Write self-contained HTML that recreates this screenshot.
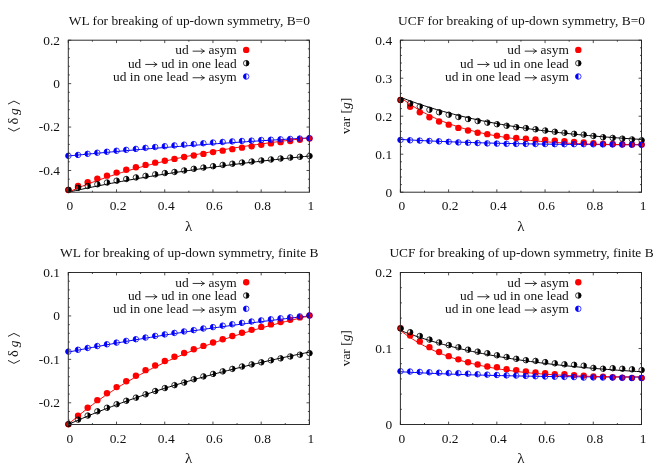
<!DOCTYPE html>
<html><head><meta charset="utf-8"><title>chart</title>
<style>
html,body{margin:0;padding:0;background:#fff}
svg{display:block;will-change:transform}
.t{font-family:"Liberation Serif",serif;font-size:13.42px;fill:#111}
</style></head><body>
<svg width="664" height="465" viewBox="0 0 664 465">
<rect width="664" height="465" fill="#fff"/>
<text x="189.3" y="24.6" text-anchor="middle" class="t">WL for breaking of up-down symmetry, B=0</text>
<polyline points="68.30,156.01 70.71,155.77 73.12,155.53 75.53,155.29 77.94,155.06 80.35,154.82 82.77,154.59 85.18,154.36 87.59,154.13 90.00,153.90 92.41,153.67 94.82,153.45 97.23,153.23 99.64,153.00 102.05,152.78 104.46,152.56 106.88,152.34 109.29,152.13 111.70,151.91 114.11,151.70 116.52,151.49 118.93,151.27 121.34,151.06 123.75,150.86 126.16,150.65 128.57,150.44 130.99,150.24 133.40,150.03 135.81,149.83 138.22,149.63 140.63,149.43 143.04,149.23 145.45,149.03 147.86,148.84 150.27,148.64 152.69,148.45 155.10,148.25 157.51,148.06 159.92,147.87 162.33,147.68 164.74,147.49 167.15,147.31 169.56,147.12 171.97,146.94 174.38,146.75 176.79,146.57 179.21,146.39 181.62,146.21 184.03,146.03 186.44,145.85 188.85,145.67 191.26,145.49 193.67,145.32 196.08,145.14 198.49,144.97 200.90,144.80 203.32,144.62 205.73,144.45 208.14,144.28 210.55,144.11 212.96,143.95 215.37,143.78 217.78,143.61 220.19,143.45 222.60,143.28 225.01,143.12 227.43,142.96 229.84,142.80 232.25,142.63 234.66,142.47 237.07,142.32 239.48,142.16 241.89,142.00 244.30,141.84 246.71,141.69 249.12,141.53 251.54,141.38 253.95,141.23 256.36,141.07 258.77,140.92 261.18,140.77 263.59,140.62 266.00,140.47 268.41,140.32 270.82,140.18 273.23,140.03 275.65,139.88 278.06,139.74 280.47,139.59 282.88,139.45 285.29,139.31 287.70,139.16 290.11,139.02 292.52,138.88 294.93,138.74 297.34,138.60 299.76,138.46 302.17,138.32 304.58,138.19 306.99,138.05 309.40,137.91" fill="none" stroke="#0000ff" stroke-width="1"/>
<polyline points="68.30,192.20 70.71,191.66 73.12,191.13 75.53,190.60 77.94,190.07 80.35,189.55 82.77,189.04 85.18,188.53 87.59,188.02 90.00,187.52 92.41,187.03 94.82,186.54 97.23,186.05 99.64,185.57 102.05,185.10 104.46,184.63 106.88,184.16 109.29,183.69 111.70,183.24 114.11,182.78 116.52,182.33 118.93,181.88 121.34,181.44 123.75,181.00 126.16,180.57 128.57,180.14 130.99,179.71 133.40,179.29 135.81,178.87 138.22,178.45 140.63,178.04 143.04,177.63 145.45,177.22 147.86,176.82 150.27,176.42 152.69,176.03 155.10,175.64 157.51,175.25 159.92,174.87 162.33,174.48 164.74,174.10 167.15,173.73 169.56,173.36 171.97,172.99 174.38,172.62 176.79,172.26 179.21,171.90 181.62,171.54 184.03,171.19 186.44,170.83 188.85,170.49 191.26,170.14 193.67,169.80 196.08,169.46 198.49,169.12 200.90,168.78 203.32,168.45 205.73,168.12 208.14,167.79 210.55,167.47 212.96,167.15 215.37,166.83 217.78,166.51 220.19,166.19 222.60,165.88 225.01,165.57 227.43,165.26 229.84,164.96 232.25,164.65 234.66,164.35 237.07,164.05 239.48,163.76 241.89,163.46 244.30,163.17 246.71,162.88 249.12,162.59 251.54,162.30 253.95,162.02 256.36,161.74 258.77,161.46 261.18,161.18 263.59,160.90 266.00,160.63 268.41,160.36 270.82,160.09 273.23,159.82 275.65,159.55 278.06,159.29 280.47,159.03 282.88,158.76 285.29,158.51 287.70,158.25 290.11,157.99 292.52,157.74 294.93,157.49 297.34,157.24 299.76,156.99 302.17,156.74 304.58,156.50 306.99,156.25 309.40,156.01" fill="none" stroke="#000000" stroke-width="1"/>
<polyline points="68.30,192.20 70.71,191.13 73.12,190.07 75.53,189.04 77.94,188.02 80.35,187.03 82.77,186.05 85.18,185.10 87.59,184.16 90.00,183.24 92.41,182.33 94.82,181.44 97.23,180.57 99.64,179.71 102.05,178.87 104.46,178.04 106.88,177.22 109.29,176.42 111.70,175.64 114.11,174.87 116.52,174.10 118.93,173.36 121.34,172.62 123.75,171.90 126.16,171.19 128.57,170.49 130.99,169.80 133.40,169.12 135.81,168.45 138.22,167.79 140.63,167.15 143.04,166.51 145.45,165.88 147.86,165.26 150.27,164.65 152.69,164.05 155.10,163.46 157.51,162.88 159.92,162.30 162.33,161.74 164.74,161.18 167.15,160.63 169.56,160.09 171.97,159.55 174.38,159.03 176.79,158.51 179.21,157.99 181.62,157.49 184.03,156.99 186.44,156.50 188.85,156.01 191.26,155.53 193.67,155.06 196.08,154.59 198.49,154.13 200.90,153.67 203.32,153.23 205.73,152.78 208.14,152.34 210.55,151.91 212.96,151.49 215.37,151.06 217.78,150.65 220.19,150.24 222.60,149.83 225.01,149.43 227.43,149.03 229.84,148.64 232.25,148.25 234.66,147.87 237.07,147.49 239.48,147.12 241.89,146.75 244.30,146.39 246.71,146.03 249.12,145.67 251.54,145.32 253.95,144.97 256.36,144.62 258.77,144.28 261.18,143.95 263.59,143.61 266.00,143.28 268.41,142.96 270.82,142.63 273.23,142.32 275.65,142.00 278.06,141.69 280.47,141.38 282.88,141.07 285.29,140.77 287.70,140.47 290.11,140.18 292.52,139.88 294.93,139.59 297.34,139.31 299.76,139.02 302.17,138.74 304.58,138.46 306.99,138.19 309.40,137.91" fill="none" stroke="#ff0000" stroke-width="1"/>
<circle cx="68.40" cy="190.00" r="3.20" fill="#ff0000"/>
<circle cx="78.04" cy="185.97" r="3.20" fill="#ff0000"/>
<circle cx="87.69" cy="182.31" r="3.20" fill="#ff0000"/>
<circle cx="97.33" cy="178.81" r="3.20" fill="#ff0000"/>
<circle cx="106.98" cy="175.65" r="3.20" fill="#ff0000"/>
<circle cx="116.62" cy="172.61" r="3.20" fill="#ff0000"/>
<circle cx="126.26" cy="169.78" r="3.20" fill="#ff0000"/>
<circle cx="135.91" cy="167.25" r="3.20" fill="#ff0000"/>
<circle cx="145.55" cy="164.91" r="3.20" fill="#ff0000"/>
<circle cx="155.20" cy="162.65" r="3.20" fill="#ff0000"/>
<circle cx="164.84" cy="160.75" r="3.20" fill="#ff0000"/>
<circle cx="174.48" cy="158.91" r="3.20" fill="#ff0000"/>
<circle cx="184.13" cy="157.03" r="3.20" fill="#ff0000"/>
<circle cx="193.77" cy="155.48" r="3.20" fill="#ff0000"/>
<circle cx="203.42" cy="153.88" r="3.20" fill="#ff0000"/>
<circle cx="213.06" cy="152.11" r="3.20" fill="#ff0000"/>
<circle cx="222.70" cy="150.66" r="3.20" fill="#ff0000"/>
<circle cx="232.35" cy="149.14" r="3.20" fill="#ff0000"/>
<circle cx="241.99" cy="147.63" r="3.20" fill="#ff0000"/>
<circle cx="251.64" cy="146.34" r="3.20" fill="#ff0000"/>
<circle cx="261.28" cy="144.87" r="3.20" fill="#ff0000"/>
<circle cx="270.92" cy="143.41" r="3.20" fill="#ff0000"/>
<circle cx="280.57" cy="142.17" r="3.20" fill="#ff0000"/>
<circle cx="290.21" cy="140.94" r="3.20" fill="#ff0000"/>
<circle cx="299.86" cy="139.73" r="3.20" fill="#ff0000"/>
<circle cx="309.50" cy="138.53" r="3.20" fill="#ff0000"/>
<circle cx="68.40" cy="189.86" r="2.75" fill="none" stroke="#000000" stroke-width="0.75"/><path d="M68.40 187.11A2.75 2.75 0 0 1 68.40 192.61Z" fill="#000000" stroke="#000000" stroke-width="0.3"/>
<circle cx="78.04" cy="187.79" r="2.75" fill="none" stroke="#000000" stroke-width="0.75"/><path d="M78.04 185.04A2.75 2.75 0 0 1 78.04 190.54Z" fill="#000000" stroke="#000000" stroke-width="0.3"/>
<circle cx="87.69" cy="185.96" r="2.75" fill="none" stroke="#000000" stroke-width="0.75"/><path d="M87.69 183.21A2.75 2.75 0 0 1 87.69 188.71Z" fill="#000000" stroke="#000000" stroke-width="0.3"/>
<circle cx="97.33" cy="184.27" r="2.75" fill="none" stroke="#000000" stroke-width="0.75"/><path d="M97.33 181.52A2.75 2.75 0 0 1 97.33 187.02Z" fill="#000000" stroke="#000000" stroke-width="0.3"/>
<circle cx="106.98" cy="182.52" r="2.75" fill="none" stroke="#000000" stroke-width="0.75"/><path d="M106.98 179.77A2.75 2.75 0 0 1 106.98 185.27Z" fill="#000000" stroke="#000000" stroke-width="0.3"/>
<circle cx="116.62" cy="180.70" r="2.75" fill="none" stroke="#000000" stroke-width="0.75"/><path d="M116.62 177.95A2.75 2.75 0 0 1 116.62 183.45Z" fill="#000000" stroke="#000000" stroke-width="0.3"/>
<circle cx="126.26" cy="179.00" r="2.75" fill="none" stroke="#000000" stroke-width="0.75"/><path d="M126.26 176.25A2.75 2.75 0 0 1 126.26 181.75Z" fill="#000000" stroke="#000000" stroke-width="0.3"/>
<circle cx="135.91" cy="177.43" r="2.75" fill="none" stroke="#000000" stroke-width="0.75"/><path d="M135.91 174.68A2.75 2.75 0 0 1 135.91 180.18Z" fill="#000000" stroke="#000000" stroke-width="0.3"/>
<circle cx="145.55" cy="175.88" r="2.75" fill="none" stroke="#000000" stroke-width="0.75"/><path d="M145.55 173.13A2.75 2.75 0 0 1 145.55 178.63Z" fill="#000000" stroke="#000000" stroke-width="0.3"/>
<circle cx="155.20" cy="174.36" r="2.75" fill="none" stroke="#000000" stroke-width="0.75"/><path d="M155.20 171.61A2.75 2.75 0 0 1 155.20 177.11Z" fill="#000000" stroke="#000000" stroke-width="0.3"/>
<circle cx="164.84" cy="173.04" r="2.75" fill="none" stroke="#000000" stroke-width="0.75"/><path d="M164.84 170.29A2.75 2.75 0 0 1 164.84 175.79Z" fill="#000000" stroke="#000000" stroke-width="0.3"/>
<circle cx="174.48" cy="171.94" r="2.75" fill="none" stroke="#000000" stroke-width="0.75"/><path d="M174.48 169.19A2.75 2.75 0 0 1 174.48 174.69Z" fill="#000000" stroke="#000000" stroke-width="0.3"/>
<circle cx="184.13" cy="170.46" r="2.75" fill="none" stroke="#000000" stroke-width="0.75"/><path d="M184.13 167.71A2.75 2.75 0 0 1 184.13 173.21Z" fill="#000000" stroke="#000000" stroke-width="0.3"/>
<circle cx="193.77" cy="168.81" r="2.75" fill="none" stroke="#000000" stroke-width="0.75"/><path d="M193.77 166.06A2.75 2.75 0 0 1 193.77 171.56Z" fill="#000000" stroke="#000000" stroke-width="0.3"/>
<circle cx="203.42" cy="167.56" r="2.75" fill="none" stroke="#000000" stroke-width="0.75"/><path d="M203.42 164.81A2.75 2.75 0 0 1 203.42 170.31Z" fill="#000000" stroke="#000000" stroke-width="0.3"/>
<circle cx="213.06" cy="166.23" r="2.75" fill="none" stroke="#000000" stroke-width="0.75"/><path d="M213.06 163.48A2.75 2.75 0 0 1 213.06 168.98Z" fill="#000000" stroke="#000000" stroke-width="0.3"/>
<circle cx="222.70" cy="164.91" r="2.75" fill="none" stroke="#000000" stroke-width="0.75"/><path d="M222.70 162.16A2.75 2.75 0 0 1 222.70 167.66Z" fill="#000000" stroke="#000000" stroke-width="0.3"/>
<circle cx="232.35" cy="163.72" r="2.75" fill="none" stroke="#000000" stroke-width="0.75"/><path d="M232.35 160.97A2.75 2.75 0 0 1 232.35 166.47Z" fill="#000000" stroke="#000000" stroke-width="0.3"/>
<circle cx="241.99" cy="162.54" r="2.75" fill="none" stroke="#000000" stroke-width="0.75"/><path d="M241.99 159.79A2.75 2.75 0 0 1 241.99 165.29Z" fill="#000000" stroke="#000000" stroke-width="0.3"/>
<circle cx="251.64" cy="161.49" r="2.75" fill="none" stroke="#000000" stroke-width="0.75"/><path d="M251.64 158.74A2.75 2.75 0 0 1 251.64 164.24Z" fill="#000000" stroke="#000000" stroke-width="0.3"/>
<circle cx="261.28" cy="160.46" r="2.75" fill="none" stroke="#000000" stroke-width="0.75"/><path d="M261.28 157.71A2.75 2.75 0 0 1 261.28 163.21Z" fill="#000000" stroke="#000000" stroke-width="0.3"/>
<circle cx="270.92" cy="159.47" r="2.75" fill="none" stroke="#000000" stroke-width="0.75"/><path d="M270.92 156.72A2.75 2.75 0 0 1 270.92 162.22Z" fill="#000000" stroke="#000000" stroke-width="0.3"/>
<circle cx="280.57" cy="158.50" r="2.75" fill="none" stroke="#000000" stroke-width="0.75"/><path d="M280.57 155.75A2.75 2.75 0 0 1 280.57 161.25Z" fill="#000000" stroke="#000000" stroke-width="0.3"/>
<circle cx="290.21" cy="157.57" r="2.75" fill="none" stroke="#000000" stroke-width="0.75"/><path d="M290.21 154.82A2.75 2.75 0 0 1 290.21 160.32Z" fill="#000000" stroke="#000000" stroke-width="0.3"/>
<circle cx="299.86" cy="156.78" r="2.75" fill="none" stroke="#000000" stroke-width="0.75"/><path d="M299.86 154.03A2.75 2.75 0 0 1 299.86 159.53Z" fill="#000000" stroke="#000000" stroke-width="0.3"/>
<circle cx="309.50" cy="156.04" r="2.75" fill="none" stroke="#000000" stroke-width="0.75"/><path d="M309.50 153.29A2.75 2.75 0 0 1 309.50 158.79Z" fill="#000000" stroke="#000000" stroke-width="0.3"/>
<circle cx="68.40" cy="155.85" r="2.75" fill="none" stroke="#0000ff" stroke-width="0.75"/><path d="M68.40 153.10A2.75 2.75 0 0 0 68.40 158.60Z" fill="#0000ff" stroke="#0000ff" stroke-width="0.3"/>
<circle cx="78.04" cy="154.94" r="2.75" fill="none" stroke="#0000ff" stroke-width="0.75"/><path d="M78.04 152.19A2.75 2.75 0 0 0 78.04 157.69Z" fill="#0000ff" stroke="#0000ff" stroke-width="0.3"/>
<circle cx="87.69" cy="153.84" r="2.75" fill="none" stroke="#0000ff" stroke-width="0.75"/><path d="M87.69 151.09A2.75 2.75 0 0 0 87.69 156.59Z" fill="#0000ff" stroke="#0000ff" stroke-width="0.3"/>
<circle cx="97.33" cy="152.74" r="2.75" fill="none" stroke="#0000ff" stroke-width="0.75"/><path d="M97.33 149.99A2.75 2.75 0 0 0 97.33 155.49Z" fill="#0000ff" stroke="#0000ff" stroke-width="0.3"/>
<circle cx="106.98" cy="151.74" r="2.75" fill="none" stroke="#0000ff" stroke-width="0.75"/><path d="M106.98 148.99A2.75 2.75 0 0 0 106.98 154.49Z" fill="#0000ff" stroke="#0000ff" stroke-width="0.3"/>
<circle cx="116.62" cy="150.75" r="2.75" fill="none" stroke="#0000ff" stroke-width="0.75"/><path d="M116.62 148.00A2.75 2.75 0 0 0 116.62 153.50Z" fill="#0000ff" stroke="#0000ff" stroke-width="0.3"/>
<circle cx="126.26" cy="149.87" r="2.75" fill="none" stroke="#0000ff" stroke-width="0.75"/><path d="M126.26 147.12A2.75 2.75 0 0 0 126.26 152.62Z" fill="#0000ff" stroke="#0000ff" stroke-width="0.3"/>
<circle cx="135.91" cy="148.91" r="2.75" fill="none" stroke="#0000ff" stroke-width="0.75"/><path d="M135.91 146.16A2.75 2.75 0 0 0 135.91 151.66Z" fill="#0000ff" stroke="#0000ff" stroke-width="0.3"/>
<circle cx="145.55" cy="147.86" r="2.75" fill="none" stroke="#0000ff" stroke-width="0.75"/><path d="M145.55 145.11A2.75 2.75 0 0 0 145.55 150.61Z" fill="#0000ff" stroke="#0000ff" stroke-width="0.3"/>
<circle cx="155.20" cy="147.03" r="2.75" fill="none" stroke="#0000ff" stroke-width="0.75"/><path d="M155.20 144.28A2.75 2.75 0 0 0 155.20 149.78Z" fill="#0000ff" stroke="#0000ff" stroke-width="0.3"/>
<circle cx="164.84" cy="146.21" r="2.75" fill="none" stroke="#0000ff" stroke-width="0.75"/><path d="M164.84 143.46A2.75 2.75 0 0 0 164.84 148.96Z" fill="#0000ff" stroke="#0000ff" stroke-width="0.3"/>
<circle cx="174.48" cy="145.42" r="2.75" fill="none" stroke="#0000ff" stroke-width="0.75"/><path d="M174.48 142.67A2.75 2.75 0 0 0 174.48 148.17Z" fill="#0000ff" stroke="#0000ff" stroke-width="0.3"/>
<circle cx="184.13" cy="144.65" r="2.75" fill="none" stroke="#0000ff" stroke-width="0.75"/><path d="M184.13 141.90A2.75 2.75 0 0 0 184.13 147.40Z" fill="#0000ff" stroke="#0000ff" stroke-width="0.3"/>
<circle cx="193.77" cy="144.10" r="2.75" fill="none" stroke="#0000ff" stroke-width="0.75"/><path d="M193.77 141.35A2.75 2.75 0 0 0 193.77 146.85Z" fill="#0000ff" stroke="#0000ff" stroke-width="0.3"/>
<circle cx="203.42" cy="143.27" r="2.75" fill="none" stroke="#0000ff" stroke-width="0.75"/><path d="M203.42 140.52A2.75 2.75 0 0 0 203.42 146.02Z" fill="#0000ff" stroke="#0000ff" stroke-width="0.3"/>
<circle cx="213.06" cy="142.56" r="2.75" fill="none" stroke="#0000ff" stroke-width="0.75"/><path d="M213.06 139.81A2.75 2.75 0 0 0 213.06 145.31Z" fill="#0000ff" stroke="#0000ff" stroke-width="0.3"/>
<circle cx="222.70" cy="141.98" r="2.75" fill="none" stroke="#0000ff" stroke-width="0.75"/><path d="M222.70 139.23A2.75 2.75 0 0 0 222.70 144.73Z" fill="#0000ff" stroke="#0000ff" stroke-width="0.3"/>
<circle cx="232.35" cy="141.41" r="2.75" fill="none" stroke="#0000ff" stroke-width="0.75"/><path d="M232.35 138.66A2.75 2.75 0 0 0 232.35 144.16Z" fill="#0000ff" stroke="#0000ff" stroke-width="0.3"/>
<circle cx="241.99" cy="140.96" r="2.75" fill="none" stroke="#0000ff" stroke-width="0.75"/><path d="M241.99 138.21A2.75 2.75 0 0 0 241.99 143.71Z" fill="#0000ff" stroke="#0000ff" stroke-width="0.3"/>
<circle cx="251.64" cy="140.63" r="2.75" fill="none" stroke="#0000ff" stroke-width="0.75"/><path d="M251.64 137.88A2.75 2.75 0 0 0 251.64 143.38Z" fill="#0000ff" stroke="#0000ff" stroke-width="0.3"/>
<circle cx="261.28" cy="140.02" r="2.75" fill="none" stroke="#0000ff" stroke-width="0.75"/><path d="M261.28 137.27A2.75 2.75 0 0 0 261.28 142.77Z" fill="#0000ff" stroke="#0000ff" stroke-width="0.3"/>
<circle cx="270.92" cy="139.72" r="2.75" fill="none" stroke="#0000ff" stroke-width="0.75"/><path d="M270.92 136.97A2.75 2.75 0 0 0 270.92 142.47Z" fill="#0000ff" stroke="#0000ff" stroke-width="0.3"/>
<circle cx="280.57" cy="139.33" r="2.75" fill="none" stroke="#0000ff" stroke-width="0.75"/><path d="M280.57 136.58A2.75 2.75 0 0 0 280.57 142.08Z" fill="#0000ff" stroke="#0000ff" stroke-width="0.3"/>
<circle cx="290.21" cy="138.95" r="2.75" fill="none" stroke="#0000ff" stroke-width="0.75"/><path d="M290.21 136.20A2.75 2.75 0 0 0 290.21 141.70Z" fill="#0000ff" stroke="#0000ff" stroke-width="0.3"/>
<circle cx="299.86" cy="138.58" r="2.75" fill="none" stroke="#0000ff" stroke-width="0.75"/><path d="M299.86 135.83A2.75 2.75 0 0 0 299.86 141.33Z" fill="#0000ff" stroke="#0000ff" stroke-width="0.3"/>
<circle cx="309.50" cy="138.22" r="2.75" fill="none" stroke="#0000ff" stroke-width="0.75"/><path d="M309.50 135.47A2.75 2.75 0 0 0 309.50 140.97Z" fill="#0000ff" stroke="#0000ff" stroke-width="0.3"/>
<rect x="68.3" y="40.2" width="241.10" height="152.00" fill="none" stroke="#2e2e2e" stroke-width="1"/>
<text x="60.0" y="44.50" text-anchor="end" class="t">0.2</text>
<text x="60.0" y="87.93" text-anchor="end" class="t">0</text>
<text x="60.0" y="131.36" text-anchor="end" class="t">-0.2</text>
<text x="60.0" y="174.79" text-anchor="end" class="t">-0.4</text>
<path d="M68.30 192.2v-2.9M68.30 40.2v2.9M92.41 192.2v-1.5M92.41 40.2v1.5M116.52 192.2v-2.9M116.52 40.2v2.9M140.63 192.2v-1.5M140.63 40.2v1.5M164.74 192.2v-2.9M164.74 40.2v2.9M188.85 192.2v-1.5M188.85 40.2v1.5M212.96 192.2v-2.9M212.96 40.2v2.9M237.07 192.2v-1.5M237.07 40.2v1.5M261.18 192.2v-2.9M261.18 40.2v2.9M285.29 192.2v-1.5M285.29 40.2v1.5M309.40 192.2v-2.9M309.40 40.2v2.9M68.3 40.20h2.9M309.4 40.20h-2.9M68.3 48.89h1.5M309.4 48.89h-1.5M68.3 57.57h1.5M309.4 57.57h-1.5M68.3 66.26h1.5M309.4 66.26h-1.5M68.3 74.94h1.5M309.4 74.94h-1.5M68.3 83.63h2.9M309.4 83.63h-2.9M68.3 92.31h1.5M309.4 92.31h-1.5M68.3 101.00h1.5M309.4 101.00h-1.5M68.3 109.69h1.5M309.4 109.69h-1.5M68.3 118.37h1.5M309.4 118.37h-1.5M68.3 127.06h2.9M309.4 127.06h-2.9M68.3 135.74h1.5M309.4 135.74h-1.5M68.3 144.43h1.5M309.4 144.43h-1.5M68.3 153.11h1.5M309.4 153.11h-1.5M68.3 161.80h1.5M309.4 161.80h-1.5M68.3 170.49h2.9M309.4 170.49h-2.9M68.3 179.17h1.5M309.4 179.17h-1.5M68.3 187.86h1.5M309.4 187.86h-1.5" stroke="#222" stroke-width="0.8" fill="none"/>
<text x="69.80" y="210.4" text-anchor="middle" class="t">0</text>
<text x="118.02" y="210.4" text-anchor="middle" class="t">0.2</text>
<text x="166.24" y="210.4" text-anchor="middle" class="t">0.4</text>
<text x="214.46" y="210.4" text-anchor="middle" class="t">0.6</text>
<text x="262.68" y="210.4" text-anchor="middle" class="t">0.8</text>
<text x="310.90" y="210.4" text-anchor="middle" class="t">1</text>
<text x="188.7" y="230.8" text-anchor="middle" class="t" style="font-size:15px">λ</text>
<g transform="translate(18.2 131.5) rotate(-90)"><path d="M3.4 -10.2L0.4 -4.25L3.4 1.7" fill="none" stroke="#111" stroke-width="0.9"/><text x="6.9" y="0" class="t" style="font-size:14.5px">δ</text><text x="16.6" y="0" class="t" font-style="italic">g</text><path d="M27.4 -10.2L30.4 -4.25L27.4 1.7" fill="none" stroke="#111" stroke-width="0.9"/></g>
<text x="175.24" y="54.40" class="t" style="white-space:pre">ud </text><path d="M192.62 51.15H204.42M201.12 48.55Q202.12 50.45 204.42 51.15Q202.12 51.85 201.12 53.75" fill="none" stroke="#111" stroke-width="0.85"/><text x="205.12" y="54.40" class="t" style="white-space:pre"> asym</text>
<circle cx="246.20" cy="49.90" r="3.20" fill="#ff0000"/>
<text x="127.92" y="67.70" class="t" style="white-space:pre">ud </text><path d="M145.29 64.45H157.09M153.79 61.85Q154.79 63.75 157.09 64.45Q154.79 65.15 153.79 67.05" fill="none" stroke="#111" stroke-width="0.85"/><text x="157.79" y="67.70" class="t" style="white-space:pre"> ud in one lead</text>
<circle cx="246.20" cy="63.20" r="2.75" fill="none" stroke="#000000" stroke-width="0.75"/><path d="M246.20 60.45A2.75 2.75 0 0 1 246.20 65.95Z" fill="#000000" stroke="#000000" stroke-width="0.3"/>
<text x="113.01" y="81.00" class="t" style="white-space:pre">ud in one lead </text><path d="M192.62 77.75H204.42M201.12 75.15Q202.12 77.05 204.42 77.75Q202.12 78.45 201.12 80.35" fill="none" stroke="#111" stroke-width="0.85"/><text x="205.12" y="81.00" class="t" style="white-space:pre"> asym</text>
<circle cx="246.20" cy="76.50" r="2.75" fill="none" stroke="#0000ff" stroke-width="0.75"/><path d="M246.20 73.75A2.75 2.75 0 0 0 246.20 79.25Z" fill="#0000ff" stroke="#0000ff" stroke-width="0.3"/>
<text x="521.5" y="24.6" text-anchor="middle" class="t">UCF for breaking of up-down symmetry, B=0</text>
<polyline points="400.40,139.42 402.81,139.56 405.22,139.70 407.63,139.83 410.04,139.96 412.46,140.09 414.87,140.22 417.28,140.34 419.69,140.46 422.10,140.58 424.51,140.70 426.92,140.81 429.33,140.92 431.74,141.03 434.15,141.14 436.57,141.24 438.98,141.34 441.39,141.44 443.80,141.54 446.21,141.64 448.62,141.73 451.03,141.82 453.44,141.91 455.85,142.00 458.26,142.09 460.68,142.17 463.09,142.25 465.50,142.33 467.91,142.41 470.32,142.49 472.73,142.56 475.14,142.64 477.55,142.71 479.96,142.78 482.37,142.85 484.79,142.91 487.20,142.98 489.61,143.04 492.02,143.10 494.43,143.16 496.84,143.22 499.25,143.28 501.66,143.33 504.07,143.39 506.48,143.44 508.90,143.49 511.31,143.54 513.72,143.59 516.13,143.64 518.54,143.69 520.95,143.73 523.36,143.77 525.77,143.82 528.18,143.86 530.59,143.90 533.00,143.94 535.42,143.97 537.83,144.01 540.24,144.05 542.65,144.08 545.06,144.11 547.47,144.15 549.88,144.18 552.29,144.21 554.70,144.24 557.12,144.26 559.53,144.29 561.94,144.32 564.35,144.34 566.76,144.36 569.17,144.39 571.58,144.41 573.99,144.43 576.40,144.45 578.81,144.47 581.23,144.49 583.64,144.51 586.05,144.52 588.46,144.54 590.87,144.55 593.28,144.57 595.69,144.58 598.10,144.59 600.51,144.61 602.92,144.62 605.34,144.63 607.75,144.64 610.16,144.65 612.57,144.65 614.98,144.66 617.39,144.67 619.80,144.67 622.21,144.68 624.62,144.68 627.03,144.69 629.45,144.69 631.86,144.70 634.27,144.70 636.68,144.70 639.09,144.70 641.50,144.70" fill="none" stroke="#0000ff" stroke-width="1"/>
<polyline points="400.40,97.20 402.81,98.14 405.22,99.06 407.63,99.97 410.04,100.85 412.46,101.72 414.87,102.57 417.28,103.41 419.69,104.23 422.10,105.03 424.51,105.82 426.92,106.59 429.33,107.35 431.74,108.09 434.15,108.82 436.57,109.53 438.98,110.23 441.39,110.92 443.80,111.59 446.21,112.25 448.62,112.90 451.03,113.54 453.44,114.16 455.85,114.78 458.26,115.38 460.68,115.97 463.09,116.54 465.50,117.11 467.91,117.67 470.32,118.21 472.73,118.75 475.14,119.28 477.55,119.79 479.96,120.30 482.37,120.80 484.79,121.28 487.20,121.76 489.61,122.23 492.02,122.69 494.43,123.14 496.84,123.59 499.25,124.02 501.66,124.45 504.07,124.87 506.48,125.28 508.90,125.69 511.31,126.08 513.72,126.47 516.13,126.86 518.54,127.23 520.95,127.60 523.36,127.96 525.77,128.32 528.18,128.66 530.59,129.01 533.00,129.34 535.42,129.67 537.83,129.99 540.24,130.31 542.65,130.62 545.06,130.93 547.47,131.23 549.88,131.52 552.29,131.81 554.70,132.09 557.12,132.37 559.53,132.65 561.94,132.91 564.35,133.18 566.76,133.43 569.17,133.69 571.58,133.94 573.99,134.18 576.40,134.42 578.81,134.66 581.23,134.89 583.64,135.11 586.05,135.33 588.46,135.55 590.87,135.77 593.28,135.98 595.69,136.18 598.10,136.38 600.51,136.58 602.92,136.78 605.34,136.97 607.75,137.15 610.16,137.34 612.57,137.52 614.98,137.69 617.39,137.87 619.80,138.04 622.21,138.20 624.62,138.37 627.03,138.53 629.45,138.68 631.86,138.84 634.27,138.99 636.68,139.14 639.09,139.28 641.50,139.42" fill="none" stroke="#000000" stroke-width="1"/>
<polyline points="400.40,97.20 402.81,99.06 405.22,100.85 407.63,102.57 410.04,104.23 412.46,105.82 414.87,107.35 417.28,108.82 419.69,110.23 422.10,111.59 424.51,112.90 426.92,114.16 429.33,115.38 431.74,116.54 434.15,117.67 436.57,118.75 438.98,119.79 441.39,120.80 443.80,121.76 446.21,122.69 448.62,123.59 451.03,124.45 453.44,125.28 455.85,126.08 458.26,126.86 460.68,127.60 463.09,128.32 465.50,129.01 467.91,129.67 470.32,130.31 472.73,130.93 475.14,131.52 477.55,132.09 479.96,132.65 482.37,133.18 484.79,133.69 487.20,134.18 489.61,134.66 492.02,135.11 494.43,135.55 496.84,135.98 499.25,136.38 501.66,136.78 504.07,137.15 506.48,137.52 508.90,137.87 511.31,138.20 513.72,138.53 516.13,138.84 518.54,139.14 520.95,139.42 523.36,139.70 525.77,139.96 528.18,140.22 530.59,140.46 533.00,140.70 535.42,140.92 537.83,141.14 540.24,141.34 542.65,141.54 545.06,141.73 547.47,141.91 549.88,142.09 552.29,142.25 554.70,142.41 557.12,142.56 559.53,142.71 561.94,142.85 564.35,142.98 566.76,143.10 569.17,143.22 571.58,143.33 573.99,143.44 576.40,143.54 578.81,143.64 581.23,143.73 583.64,143.82 586.05,143.90 588.46,143.97 590.87,144.05 593.28,144.11 595.69,144.18 598.10,144.24 600.51,144.29 602.92,144.34 605.34,144.39 607.75,144.43 610.16,144.47 612.57,144.51 614.98,144.54 617.39,144.57 619.80,144.59 622.21,144.62 624.62,144.64 627.03,144.65 629.45,144.67 631.86,144.68 634.27,144.69 636.68,144.70 639.09,144.70 641.50,144.70" fill="none" stroke="#ff0000" stroke-width="1"/>
<circle cx="400.50" cy="100.02" r="3.20" fill="#ff0000"/>
<circle cx="410.14" cy="106.78" r="3.20" fill="#ff0000"/>
<circle cx="419.79" cy="112.29" r="3.20" fill="#ff0000"/>
<circle cx="429.43" cy="117.19" r="3.20" fill="#ff0000"/>
<circle cx="439.08" cy="121.52" r="3.20" fill="#ff0000"/>
<circle cx="448.72" cy="124.65" r="3.20" fill="#ff0000"/>
<circle cx="458.36" cy="127.90" r="3.20" fill="#ff0000"/>
<circle cx="468.01" cy="130.51" r="3.20" fill="#ff0000"/>
<circle cx="477.65" cy="132.72" r="3.20" fill="#ff0000"/>
<circle cx="487.30" cy="134.17" r="3.20" fill="#ff0000"/>
<circle cx="496.94" cy="135.67" r="3.20" fill="#ff0000"/>
<circle cx="506.58" cy="137.06" r="3.20" fill="#ff0000"/>
<circle cx="516.23" cy="138.06" r="3.20" fill="#ff0000"/>
<circle cx="525.87" cy="138.79" r="3.20" fill="#ff0000"/>
<circle cx="535.52" cy="139.47" r="3.20" fill="#ff0000"/>
<circle cx="545.16" cy="140.01" r="3.20" fill="#ff0000"/>
<circle cx="554.80" cy="140.61" r="3.20" fill="#ff0000"/>
<circle cx="564.45" cy="141.30" r="3.20" fill="#ff0000"/>
<circle cx="574.09" cy="141.87" r="3.20" fill="#ff0000"/>
<circle cx="583.74" cy="142.53" r="3.20" fill="#ff0000"/>
<circle cx="593.38" cy="143.17" r="3.20" fill="#ff0000"/>
<circle cx="603.02" cy="143.70" r="3.20" fill="#ff0000"/>
<circle cx="612.67" cy="144.01" r="3.20" fill="#ff0000"/>
<circle cx="622.31" cy="144.28" r="3.20" fill="#ff0000"/>
<circle cx="631.96" cy="144.40" r="3.20" fill="#ff0000"/>
<circle cx="641.60" cy="144.56" r="3.20" fill="#ff0000"/>
<circle cx="400.50" cy="99.96" r="2.75" fill="none" stroke="#000000" stroke-width="0.75"/><path d="M400.50 97.21A2.75 2.75 0 0 1 400.50 102.71Z" fill="#000000" stroke="#000000" stroke-width="0.3"/>
<circle cx="410.14" cy="103.53" r="2.75" fill="none" stroke="#000000" stroke-width="0.75"/><path d="M410.14 100.78A2.75 2.75 0 0 1 410.14 106.28Z" fill="#000000" stroke="#000000" stroke-width="0.3"/>
<circle cx="419.79" cy="106.53" r="2.75" fill="none" stroke="#000000" stroke-width="0.75"/><path d="M419.79 103.78A2.75 2.75 0 0 1 419.79 109.28Z" fill="#000000" stroke="#000000" stroke-width="0.3"/>
<circle cx="429.43" cy="109.77" r="2.75" fill="none" stroke="#000000" stroke-width="0.75"/><path d="M429.43 107.02A2.75 2.75 0 0 1 429.43 112.52Z" fill="#000000" stroke="#000000" stroke-width="0.3"/>
<circle cx="439.08" cy="112.29" r="2.75" fill="none" stroke="#000000" stroke-width="0.75"/><path d="M439.08 109.54A2.75 2.75 0 0 1 439.08 115.04Z" fill="#000000" stroke="#000000" stroke-width="0.3"/>
<circle cx="448.72" cy="114.68" r="2.75" fill="none" stroke="#000000" stroke-width="0.75"/><path d="M448.72 111.93A2.75 2.75 0 0 1 448.72 117.43Z" fill="#000000" stroke="#000000" stroke-width="0.3"/>
<circle cx="458.36" cy="116.96" r="2.75" fill="none" stroke="#000000" stroke-width="0.75"/><path d="M458.36 114.21A2.75 2.75 0 0 1 458.36 119.71Z" fill="#000000" stroke="#000000" stroke-width="0.3"/>
<circle cx="468.01" cy="119.04" r="2.75" fill="none" stroke="#000000" stroke-width="0.75"/><path d="M468.01 116.29A2.75 2.75 0 0 1 468.01 121.79Z" fill="#000000" stroke="#000000" stroke-width="0.3"/>
<circle cx="477.65" cy="121.04" r="2.75" fill="none" stroke="#000000" stroke-width="0.75"/><path d="M477.65 118.29A2.75 2.75 0 0 1 477.65 123.79Z" fill="#000000" stroke="#000000" stroke-width="0.3"/>
<circle cx="487.30" cy="122.67" r="2.75" fill="none" stroke="#000000" stroke-width="0.75"/><path d="M487.30 119.92A2.75 2.75 0 0 1 487.30 125.42Z" fill="#000000" stroke="#000000" stroke-width="0.3"/>
<circle cx="496.94" cy="124.24" r="2.75" fill="none" stroke="#000000" stroke-width="0.75"/><path d="M496.94 121.49A2.75 2.75 0 0 1 496.94 126.99Z" fill="#000000" stroke="#000000" stroke-width="0.3"/>
<circle cx="506.58" cy="125.75" r="2.75" fill="none" stroke="#000000" stroke-width="0.75"/><path d="M506.58 123.00A2.75 2.75 0 0 1 506.58 128.50Z" fill="#000000" stroke="#000000" stroke-width="0.3"/>
<circle cx="516.23" cy="127.21" r="2.75" fill="none" stroke="#000000" stroke-width="0.75"/><path d="M516.23 124.46A2.75 2.75 0 0 1 516.23 129.96Z" fill="#000000" stroke="#000000" stroke-width="0.3"/>
<circle cx="525.87" cy="128.05" r="2.75" fill="none" stroke="#000000" stroke-width="0.75"/><path d="M525.87 125.30A2.75 2.75 0 0 1 525.87 130.80Z" fill="#000000" stroke="#000000" stroke-width="0.3"/>
<circle cx="535.52" cy="129.25" r="2.75" fill="none" stroke="#000000" stroke-width="0.75"/><path d="M535.52 126.50A2.75 2.75 0 0 1 535.52 132.00Z" fill="#000000" stroke="#000000" stroke-width="0.3"/>
<circle cx="545.16" cy="130.52" r="2.75" fill="none" stroke="#000000" stroke-width="0.75"/><path d="M545.16 127.77A2.75 2.75 0 0 1 545.16 133.27Z" fill="#000000" stroke="#000000" stroke-width="0.3"/>
<circle cx="554.80" cy="131.76" r="2.75" fill="none" stroke="#000000" stroke-width="0.75"/><path d="M554.80 129.01A2.75 2.75 0 0 1 554.80 134.51Z" fill="#000000" stroke="#000000" stroke-width="0.3"/>
<circle cx="564.45" cy="132.80" r="2.75" fill="none" stroke="#000000" stroke-width="0.75"/><path d="M564.45 130.05A2.75 2.75 0 0 1 564.45 135.55Z" fill="#000000" stroke="#000000" stroke-width="0.3"/>
<circle cx="574.09" cy="133.81" r="2.75" fill="none" stroke="#000000" stroke-width="0.75"/><path d="M574.09 131.06A2.75 2.75 0 0 1 574.09 136.56Z" fill="#000000" stroke="#000000" stroke-width="0.3"/>
<circle cx="583.74" cy="134.61" r="2.75" fill="none" stroke="#000000" stroke-width="0.75"/><path d="M583.74 131.86A2.75 2.75 0 0 1 583.74 137.36Z" fill="#000000" stroke="#000000" stroke-width="0.3"/>
<circle cx="593.38" cy="135.99" r="2.75" fill="none" stroke="#000000" stroke-width="0.75"/><path d="M593.38 133.24A2.75 2.75 0 0 1 593.38 138.74Z" fill="#000000" stroke="#000000" stroke-width="0.3"/>
<circle cx="603.02" cy="137.25" r="2.75" fill="none" stroke="#000000" stroke-width="0.75"/><path d="M603.02 134.50A2.75 2.75 0 0 1 603.02 140.00Z" fill="#000000" stroke="#000000" stroke-width="0.3"/>
<circle cx="612.67" cy="137.91" r="2.75" fill="none" stroke="#000000" stroke-width="0.75"/><path d="M612.67 135.16A2.75 2.75 0 0 1 612.67 140.66Z" fill="#000000" stroke="#000000" stroke-width="0.3"/>
<circle cx="622.31" cy="138.66" r="2.75" fill="none" stroke="#000000" stroke-width="0.75"/><path d="M622.31 135.91A2.75 2.75 0 0 1 622.31 141.41Z" fill="#000000" stroke="#000000" stroke-width="0.3"/>
<circle cx="631.96" cy="139.47" r="2.75" fill="none" stroke="#000000" stroke-width="0.75"/><path d="M631.96 136.72A2.75 2.75 0 0 1 631.96 142.22Z" fill="#000000" stroke="#000000" stroke-width="0.3"/>
<circle cx="641.60" cy="140.27" r="2.75" fill="none" stroke="#000000" stroke-width="0.75"/><path d="M641.60 137.52A2.75 2.75 0 0 1 641.60 143.02Z" fill="#000000" stroke="#000000" stroke-width="0.3"/>
<circle cx="400.50" cy="139.92" r="2.75" fill="none" stroke="#0000ff" stroke-width="0.75"/><path d="M400.50 137.17A2.75 2.75 0 0 0 400.50 142.67Z" fill="#0000ff" stroke="#0000ff" stroke-width="0.3"/>
<circle cx="410.14" cy="140.31" r="2.75" fill="none" stroke="#0000ff" stroke-width="0.75"/><path d="M410.14 137.56A2.75 2.75 0 0 0 410.14 143.06Z" fill="#0000ff" stroke="#0000ff" stroke-width="0.3"/>
<circle cx="419.79" cy="140.62" r="2.75" fill="none" stroke="#0000ff" stroke-width="0.75"/><path d="M419.79 137.87A2.75 2.75 0 0 0 419.79 143.37Z" fill="#0000ff" stroke="#0000ff" stroke-width="0.3"/>
<circle cx="429.43" cy="140.93" r="2.75" fill="none" stroke="#0000ff" stroke-width="0.75"/><path d="M429.43 138.18A2.75 2.75 0 0 0 429.43 143.68Z" fill="#0000ff" stroke="#0000ff" stroke-width="0.3"/>
<circle cx="439.08" cy="141.34" r="2.75" fill="none" stroke="#0000ff" stroke-width="0.75"/><path d="M439.08 138.59A2.75 2.75 0 0 0 439.08 144.09Z" fill="#0000ff" stroke="#0000ff" stroke-width="0.3"/>
<circle cx="448.72" cy="141.84" r="2.75" fill="none" stroke="#0000ff" stroke-width="0.75"/><path d="M448.72 139.09A2.75 2.75 0 0 0 448.72 144.59Z" fill="#0000ff" stroke="#0000ff" stroke-width="0.3"/>
<circle cx="458.36" cy="142.42" r="2.75" fill="none" stroke="#0000ff" stroke-width="0.75"/><path d="M458.36 139.67A2.75 2.75 0 0 0 458.36 145.17Z" fill="#0000ff" stroke="#0000ff" stroke-width="0.3"/>
<circle cx="468.01" cy="142.70" r="2.75" fill="none" stroke="#0000ff" stroke-width="0.75"/><path d="M468.01 139.95A2.75 2.75 0 0 0 468.01 145.45Z" fill="#0000ff" stroke="#0000ff" stroke-width="0.3"/>
<circle cx="477.65" cy="143.06" r="2.75" fill="none" stroke="#0000ff" stroke-width="0.75"/><path d="M477.65 140.31A2.75 2.75 0 0 0 477.65 145.81Z" fill="#0000ff" stroke="#0000ff" stroke-width="0.3"/>
<circle cx="487.30" cy="143.40" r="2.75" fill="none" stroke="#0000ff" stroke-width="0.75"/><path d="M487.30 140.65A2.75 2.75 0 0 0 487.30 146.15Z" fill="#0000ff" stroke="#0000ff" stroke-width="0.3"/>
<circle cx="496.94" cy="143.62" r="2.75" fill="none" stroke="#0000ff" stroke-width="0.75"/><path d="M496.94 140.87A2.75 2.75 0 0 0 496.94 146.37Z" fill="#0000ff" stroke="#0000ff" stroke-width="0.3"/>
<circle cx="506.58" cy="143.82" r="2.75" fill="none" stroke="#0000ff" stroke-width="0.75"/><path d="M506.58 141.07A2.75 2.75 0 0 0 506.58 146.57Z" fill="#0000ff" stroke="#0000ff" stroke-width="0.3"/>
<circle cx="516.23" cy="143.90" r="2.75" fill="none" stroke="#0000ff" stroke-width="0.75"/><path d="M516.23 141.15A2.75 2.75 0 0 0 516.23 146.65Z" fill="#0000ff" stroke="#0000ff" stroke-width="0.3"/>
<circle cx="525.87" cy="143.96" r="2.75" fill="none" stroke="#0000ff" stroke-width="0.75"/><path d="M525.87 141.21A2.75 2.75 0 0 0 525.87 146.71Z" fill="#0000ff" stroke="#0000ff" stroke-width="0.3"/>
<circle cx="535.52" cy="144.01" r="2.75" fill="none" stroke="#0000ff" stroke-width="0.75"/><path d="M535.52 141.26A2.75 2.75 0 0 0 535.52 146.76Z" fill="#0000ff" stroke="#0000ff" stroke-width="0.3"/>
<circle cx="545.16" cy="144.04" r="2.75" fill="none" stroke="#0000ff" stroke-width="0.75"/><path d="M545.16 141.29A2.75 2.75 0 0 0 545.16 146.79Z" fill="#0000ff" stroke="#0000ff" stroke-width="0.3"/>
<circle cx="554.80" cy="144.15" r="2.75" fill="none" stroke="#0000ff" stroke-width="0.75"/><path d="M554.80 141.40A2.75 2.75 0 0 0 554.80 146.90Z" fill="#0000ff" stroke="#0000ff" stroke-width="0.3"/>
<circle cx="564.45" cy="144.16" r="2.75" fill="none" stroke="#0000ff" stroke-width="0.75"/><path d="M564.45 141.41A2.75 2.75 0 0 0 564.45 146.91Z" fill="#0000ff" stroke="#0000ff" stroke-width="0.3"/>
<circle cx="574.09" cy="144.16" r="2.75" fill="none" stroke="#0000ff" stroke-width="0.75"/><path d="M574.09 141.41A2.75 2.75 0 0 0 574.09 146.91Z" fill="#0000ff" stroke="#0000ff" stroke-width="0.3"/>
<circle cx="583.74" cy="144.16" r="2.75" fill="none" stroke="#0000ff" stroke-width="0.75"/><path d="M583.74 141.41A2.75 2.75 0 0 0 583.74 146.91Z" fill="#0000ff" stroke="#0000ff" stroke-width="0.3"/>
<circle cx="593.38" cy="144.27" r="2.75" fill="none" stroke="#0000ff" stroke-width="0.75"/><path d="M593.38 141.52A2.75 2.75 0 0 0 593.38 147.02Z" fill="#0000ff" stroke="#0000ff" stroke-width="0.3"/>
<circle cx="603.02" cy="144.38" r="2.75" fill="none" stroke="#0000ff" stroke-width="0.75"/><path d="M603.02 141.63A2.75 2.75 0 0 0 603.02 147.13Z" fill="#0000ff" stroke="#0000ff" stroke-width="0.3"/>
<circle cx="612.67" cy="144.42" r="2.75" fill="none" stroke="#0000ff" stroke-width="0.75"/><path d="M612.67 141.67A2.75 2.75 0 0 0 612.67 147.17Z" fill="#0000ff" stroke="#0000ff" stroke-width="0.3"/>
<circle cx="622.31" cy="144.58" r="2.75" fill="none" stroke="#0000ff" stroke-width="0.75"/><path d="M622.31 141.83A2.75 2.75 0 0 0 622.31 147.33Z" fill="#0000ff" stroke="#0000ff" stroke-width="0.3"/>
<circle cx="631.96" cy="144.68" r="2.75" fill="none" stroke="#0000ff" stroke-width="0.75"/><path d="M631.96 141.93A2.75 2.75 0 0 0 631.96 147.43Z" fill="#0000ff" stroke="#0000ff" stroke-width="0.3"/>
<circle cx="641.60" cy="144.83" r="2.75" fill="none" stroke="#0000ff" stroke-width="0.75"/><path d="M641.60 142.08A2.75 2.75 0 0 0 641.60 147.58Z" fill="#0000ff" stroke="#0000ff" stroke-width="0.3"/>
<rect x="400.40000000000003" y="40.2" width="241.10" height="152.00" fill="none" stroke="#2e2e2e" stroke-width="1"/>
<text x="392.1" y="44.50" text-anchor="end" class="t">0.4</text>
<text x="392.1" y="82.50" text-anchor="end" class="t">0.3</text>
<text x="392.1" y="120.50" text-anchor="end" class="t">0.2</text>
<text x="392.1" y="158.50" text-anchor="end" class="t">0.1</text>
<text x="392.1" y="196.50" text-anchor="end" class="t">0</text>
<path d="M400.40 192.2v-2.9M400.40 40.2v2.9M424.51 192.2v-1.5M424.51 40.2v1.5M448.62 192.2v-2.9M448.62 40.2v2.9M472.73 192.2v-1.5M472.73 40.2v1.5M496.84 192.2v-2.9M496.84 40.2v2.9M520.95 192.2v-1.5M520.95 40.2v1.5M545.06 192.2v-2.9M545.06 40.2v2.9M569.17 192.2v-1.5M569.17 40.2v1.5M593.28 192.2v-2.9M593.28 40.2v2.9M617.39 192.2v-1.5M617.39 40.2v1.5M641.50 192.2v-2.9M641.50 40.2v2.9M400.40000000000003 40.20h2.9M641.5 40.20h-2.9M400.40000000000003 47.80h1.5M641.5 47.80h-1.5M400.40000000000003 55.40h1.5M641.5 55.40h-1.5M400.40000000000003 63.00h1.5M641.5 63.00h-1.5M400.40000000000003 70.60h1.5M641.5 70.60h-1.5M400.40000000000003 78.20h2.9M641.5 78.20h-2.9M400.40000000000003 85.80h1.5M641.5 85.80h-1.5M400.40000000000003 93.40h1.5M641.5 93.40h-1.5M400.40000000000003 101.00h1.5M641.5 101.00h-1.5M400.40000000000003 108.60h1.5M641.5 108.60h-1.5M400.40000000000003 116.20h2.9M641.5 116.20h-2.9M400.40000000000003 123.80h1.5M641.5 123.80h-1.5M400.40000000000003 131.40h1.5M641.5 131.40h-1.5M400.40000000000003 139.00h1.5M641.5 139.00h-1.5M400.40000000000003 146.60h1.5M641.5 146.60h-1.5M400.40000000000003 154.20h2.9M641.5 154.20h-2.9M400.40000000000003 161.80h1.5M641.5 161.80h-1.5M400.40000000000003 169.40h1.5M641.5 169.40h-1.5M400.40000000000003 177.00h1.5M641.5 177.00h-1.5M400.40000000000003 184.60h1.5M641.5 184.60h-1.5M400.40000000000003 192.20h2.9M641.5 192.20h-2.9" stroke="#222" stroke-width="0.8" fill="none"/>
<text x="401.90" y="210.4" text-anchor="middle" class="t">0</text>
<text x="450.12" y="210.4" text-anchor="middle" class="t">0.2</text>
<text x="498.34" y="210.4" text-anchor="middle" class="t">0.4</text>
<text x="546.56" y="210.4" text-anchor="middle" class="t">0.6</text>
<text x="594.78" y="210.4" text-anchor="middle" class="t">0.8</text>
<text x="643.00" y="210.4" text-anchor="middle" class="t">1</text>
<text x="520.8" y="230.8" text-anchor="middle" class="t" style="font-size:15px">λ</text>
<text transform="translate(350.3 134.0) rotate(-90)" class="t">var [<tspan font-style="italic">g</tspan>]</text>
<text x="507.34" y="54.40" class="t" style="white-space:pre">ud </text><path d="M524.72 51.15H536.52M533.22 48.55Q534.22 50.45 536.52 51.15Q534.22 51.85 533.22 53.75" fill="none" stroke="#111" stroke-width="0.85"/><text x="537.22" y="54.40" class="t" style="white-space:pre"> asym</text>
<circle cx="578.30" cy="49.90" r="3.20" fill="#ff0000"/>
<text x="460.02" y="67.70" class="t" style="white-space:pre">ud </text><path d="M477.39 64.45H489.19M485.89 61.85Q486.89 63.75 489.19 64.45Q486.89 65.15 485.89 67.05" fill="none" stroke="#111" stroke-width="0.85"/><text x="489.89" y="67.70" class="t" style="white-space:pre"> ud in one lead</text>
<circle cx="578.30" cy="63.20" r="2.75" fill="none" stroke="#000000" stroke-width="0.75"/><path d="M578.30 60.45A2.75 2.75 0 0 1 578.30 65.95Z" fill="#000000" stroke="#000000" stroke-width="0.3"/>
<text x="445.11" y="81.00" class="t" style="white-space:pre">ud in one lead </text><path d="M524.72 77.75H536.52M533.22 75.15Q534.22 77.05 536.52 77.75Q534.22 78.45 533.22 80.35" fill="none" stroke="#111" stroke-width="0.85"/><text x="537.22" y="81.00" class="t" style="white-space:pre"> asym</text>
<circle cx="578.30" cy="76.50" r="2.75" fill="none" stroke="#0000ff" stroke-width="0.75"/><path d="M578.30 73.75A2.75 2.75 0 0 0 578.30 79.25Z" fill="#0000ff" stroke="#0000ff" stroke-width="0.3"/>
<text x="189.3" y="256.9" text-anchor="middle" class="t">WL for breaking of up-down symmetry, finite B</text>
<polyline points="68.30,352.12 70.71,351.64 73.12,351.16 75.53,350.69 77.94,350.21 80.35,349.75 82.77,349.28 85.18,348.82 87.59,348.36 90.00,347.90 92.41,347.45 94.82,347.00 97.23,346.55 99.64,346.11 102.05,345.66 104.46,345.23 106.88,344.79 109.29,344.36 111.70,343.92 114.11,343.50 116.52,343.07 118.93,342.65 121.34,342.23 123.75,341.81 126.16,341.40 128.57,340.98 130.99,340.57 133.40,340.17 135.81,339.76 138.22,339.36 140.63,338.96 143.04,338.56 145.45,338.17 147.86,337.77 150.27,337.38 152.69,336.99 155.10,336.61 157.51,336.23 159.92,335.84 162.33,335.47 164.74,335.09 167.15,334.71 169.56,334.34 171.97,333.97 174.38,333.60 176.79,333.24 179.21,332.87 181.62,332.51 184.03,332.15 186.44,331.79 188.85,331.44 191.26,331.09 193.67,330.73 196.08,330.38 198.49,330.04 200.90,329.69 203.32,329.35 205.73,329.01 208.14,328.67 210.55,328.33 212.96,327.99 215.37,327.66 217.78,327.33 220.19,327.00 222.60,326.67 225.01,326.34 227.43,326.01 229.84,325.69 232.25,325.37 234.66,325.05 237.07,324.73 239.48,324.42 241.89,324.10 244.30,323.79 246.71,323.48 249.12,323.17 251.54,322.86 253.95,322.55 256.36,322.25 258.77,321.94 261.18,321.64 263.59,321.34 266.00,321.04 268.41,320.75 270.82,320.45 273.23,320.16 275.65,319.87 278.06,319.58 280.47,319.29 282.88,319.00 285.29,318.71 287.70,318.43 290.11,318.14 292.52,317.86 294.93,317.58 297.34,317.30 299.76,317.03 302.17,316.75 304.58,316.47 306.99,316.20 309.40,315.93" fill="none" stroke="#0000ff" stroke-width="1"/>
<polyline points="68.30,424.50 70.71,423.42 73.12,422.35 75.53,421.29 77.94,420.24 80.35,419.20 82.77,418.18 85.18,417.16 87.59,416.15 90.00,415.15 92.41,414.16 94.82,413.18 97.23,412.21 99.64,411.25 102.05,410.29 104.46,409.35 106.88,408.42 109.29,407.49 111.70,406.57 114.11,405.66 116.52,404.76 118.93,403.87 121.34,402.98 123.75,402.10 126.16,401.23 128.57,400.37 130.99,399.52 133.40,398.67 135.81,397.83 138.22,397.00 140.63,396.18 143.04,395.36 145.45,394.55 147.86,393.75 150.27,392.95 152.69,392.16 155.10,391.38 157.51,390.60 159.92,389.83 162.33,389.07 164.74,388.31 167.15,387.56 169.56,386.81 171.97,386.08 174.38,385.34 176.79,384.62 179.21,383.90 181.62,383.18 184.03,382.47 186.44,381.77 188.85,381.07 191.26,380.38 193.67,379.69 196.08,379.01 198.49,378.34 200.90,377.67 203.32,377.00 205.73,376.34 208.14,375.68 210.55,375.04 212.96,374.39 215.37,373.75 217.78,373.12 220.19,372.48 222.60,371.86 225.01,371.24 227.43,370.62 229.84,370.01 232.25,369.40 234.66,368.80 237.07,368.20 239.48,367.61 241.89,367.02 244.30,366.44 246.71,365.86 249.12,365.28 251.54,364.71 253.95,364.14 256.36,363.58 258.77,363.02 261.18,362.46 263.59,361.91 266.00,361.36 268.41,360.81 270.82,360.27 273.23,359.74 275.65,359.21 278.06,358.68 280.47,358.15 282.88,357.63 285.29,357.11 287.70,356.60 290.11,356.09 292.52,355.58 294.93,355.07 297.34,354.57 299.76,354.08 302.17,353.58 304.58,353.09 306.99,352.60 309.40,352.12" fill="none" stroke="#000000" stroke-width="1"/>
<polyline points="68.30,424.50 70.71,422.35 73.12,420.24 75.53,418.18 77.94,416.15 80.35,414.16 82.77,412.21 85.18,410.29 87.59,408.42 90.00,406.57 92.41,404.76 94.82,402.98 97.23,401.23 99.64,399.52 102.05,397.83 104.46,396.18 106.88,394.55 109.29,392.95 111.70,391.38 114.11,389.83 116.52,388.31 118.93,386.81 121.34,385.34 123.75,383.90 126.16,382.47 128.57,381.07 130.99,379.69 133.40,378.34 135.81,377.00 138.22,375.68 140.63,374.39 143.04,373.12 145.45,371.86 147.86,370.62 150.27,369.40 152.69,368.20 155.10,367.02 157.51,365.86 159.92,364.71 162.33,363.58 164.74,362.46 167.15,361.36 169.56,360.27 171.97,359.21 174.38,358.15 176.79,357.11 179.21,356.09 181.62,355.07 184.03,354.08 186.44,353.09 188.85,352.12 191.26,351.16 193.67,350.21 196.08,349.28 198.49,348.36 200.90,347.45 203.32,346.55 205.73,345.66 208.14,344.79 210.55,343.92 212.96,343.07 215.37,342.23 217.78,341.40 220.19,340.57 222.60,339.76 225.01,338.96 227.43,338.17 229.84,337.38 232.25,336.61 234.66,335.84 237.07,335.09 239.48,334.34 241.89,333.60 244.30,332.87 246.71,332.15 249.12,331.44 251.54,330.73 253.95,330.04 256.36,329.35 258.77,328.67 261.18,327.99 263.59,327.33 266.00,326.67 268.41,326.01 270.82,325.37 273.23,324.73 275.65,324.10 278.06,323.48 280.47,322.86 282.88,322.25 285.29,321.64 287.70,321.04 290.11,320.45 292.52,319.87 294.93,319.29 297.34,318.71 299.76,318.14 302.17,317.58 304.58,317.03 306.99,316.47 309.40,315.93" fill="none" stroke="#ff0000" stroke-width="1"/>
<circle cx="68.40" cy="424.35" r="3.20" fill="#ff0000"/>
<circle cx="78.04" cy="415.81" r="3.20" fill="#ff0000"/>
<circle cx="87.69" cy="407.76" r="3.20" fill="#ff0000"/>
<circle cx="97.33" cy="400.17" r="3.20" fill="#ff0000"/>
<circle cx="106.98" cy="393.29" r="3.20" fill="#ff0000"/>
<circle cx="116.62" cy="387.10" r="3.20" fill="#ff0000"/>
<circle cx="126.26" cy="381.29" r="3.20" fill="#ff0000"/>
<circle cx="135.91" cy="375.69" r="3.20" fill="#ff0000"/>
<circle cx="145.55" cy="370.13" r="3.20" fill="#ff0000"/>
<circle cx="155.20" cy="365.46" r="3.20" fill="#ff0000"/>
<circle cx="164.84" cy="360.93" r="3.20" fill="#ff0000"/>
<circle cx="174.48" cy="356.82" r="3.20" fill="#ff0000"/>
<circle cx="184.13" cy="352.98" r="3.20" fill="#ff0000"/>
<circle cx="193.77" cy="349.19" r="3.20" fill="#ff0000"/>
<circle cx="203.42" cy="345.92" r="3.20" fill="#ff0000"/>
<circle cx="213.06" cy="342.55" r="3.20" fill="#ff0000"/>
<circle cx="222.70" cy="339.25" r="3.20" fill="#ff0000"/>
<circle cx="232.35" cy="336.02" r="3.20" fill="#ff0000"/>
<circle cx="241.99" cy="332.75" r="3.20" fill="#ff0000"/>
<circle cx="251.64" cy="329.84" r="3.20" fill="#ff0000"/>
<circle cx="261.28" cy="326.89" r="3.20" fill="#ff0000"/>
<circle cx="270.92" cy="324.39" r="3.20" fill="#ff0000"/>
<circle cx="280.57" cy="321.96" r="3.20" fill="#ff0000"/>
<circle cx="290.21" cy="319.69" r="3.20" fill="#ff0000"/>
<circle cx="299.86" cy="317.39" r="3.20" fill="#ff0000"/>
<circle cx="309.50" cy="315.38" r="3.20" fill="#ff0000"/>
<circle cx="68.40" cy="424.04" r="2.75" fill="none" stroke="#000000" stroke-width="0.75"/><path d="M68.40 421.29A2.75 2.75 0 0 1 68.40 426.79Z" fill="#000000" stroke="#000000" stroke-width="0.3"/>
<circle cx="78.04" cy="419.60" r="2.75" fill="none" stroke="#000000" stroke-width="0.75"/><path d="M78.04 416.85A2.75 2.75 0 0 1 78.04 422.35Z" fill="#000000" stroke="#000000" stroke-width="0.3"/>
<circle cx="87.69" cy="415.56" r="2.75" fill="none" stroke="#000000" stroke-width="0.75"/><path d="M87.69 412.81A2.75 2.75 0 0 1 87.69 418.31Z" fill="#000000" stroke="#000000" stroke-width="0.3"/>
<circle cx="97.33" cy="411.31" r="2.75" fill="none" stroke="#000000" stroke-width="0.75"/><path d="M97.33 408.56A2.75 2.75 0 0 1 97.33 414.06Z" fill="#000000" stroke="#000000" stroke-width="0.3"/>
<circle cx="106.98" cy="407.72" r="2.75" fill="none" stroke="#000000" stroke-width="0.75"/><path d="M106.98 404.97A2.75 2.75 0 0 1 106.98 410.47Z" fill="#000000" stroke="#000000" stroke-width="0.3"/>
<circle cx="116.62" cy="404.20" r="2.75" fill="none" stroke="#000000" stroke-width="0.75"/><path d="M116.62 401.45A2.75 2.75 0 0 1 116.62 406.95Z" fill="#000000" stroke="#000000" stroke-width="0.3"/>
<circle cx="126.26" cy="400.74" r="2.75" fill="none" stroke="#000000" stroke-width="0.75"/><path d="M126.26 397.99A2.75 2.75 0 0 1 126.26 403.49Z" fill="#000000" stroke="#000000" stroke-width="0.3"/>
<circle cx="135.91" cy="397.64" r="2.75" fill="none" stroke="#000000" stroke-width="0.75"/><path d="M135.91 394.89A2.75 2.75 0 0 1 135.91 400.39Z" fill="#000000" stroke="#000000" stroke-width="0.3"/>
<circle cx="145.55" cy="394.30" r="2.75" fill="none" stroke="#000000" stroke-width="0.75"/><path d="M145.55 391.55A2.75 2.75 0 0 1 145.55 397.05Z" fill="#000000" stroke="#000000" stroke-width="0.3"/>
<circle cx="155.20" cy="391.01" r="2.75" fill="none" stroke="#000000" stroke-width="0.75"/><path d="M155.20 388.26A2.75 2.75 0 0 1 155.20 393.76Z" fill="#000000" stroke="#000000" stroke-width="0.3"/>
<circle cx="164.84" cy="388.06" r="2.75" fill="none" stroke="#000000" stroke-width="0.75"/><path d="M164.84 385.31A2.75 2.75 0 0 1 164.84 390.81Z" fill="#000000" stroke="#000000" stroke-width="0.3"/>
<circle cx="174.48" cy="385.15" r="2.75" fill="none" stroke="#000000" stroke-width="0.75"/><path d="M174.48 382.40A2.75 2.75 0 0 1 174.48 387.90Z" fill="#000000" stroke="#000000" stroke-width="0.3"/>
<circle cx="184.13" cy="382.57" r="2.75" fill="none" stroke="#000000" stroke-width="0.75"/><path d="M184.13 379.82A2.75 2.75 0 0 1 184.13 385.32Z" fill="#000000" stroke="#000000" stroke-width="0.3"/>
<circle cx="193.77" cy="379.22" r="2.75" fill="none" stroke="#000000" stroke-width="0.75"/><path d="M193.77 376.47A2.75 2.75 0 0 1 193.77 381.97Z" fill="#000000" stroke="#000000" stroke-width="0.3"/>
<circle cx="203.42" cy="376.40" r="2.75" fill="none" stroke="#000000" stroke-width="0.75"/><path d="M203.42 373.65A2.75 2.75 0 0 1 203.42 379.15Z" fill="#000000" stroke="#000000" stroke-width="0.3"/>
<circle cx="213.06" cy="373.91" r="2.75" fill="none" stroke="#000000" stroke-width="0.75"/><path d="M213.06 371.16A2.75 2.75 0 0 1 213.06 376.66Z" fill="#000000" stroke="#000000" stroke-width="0.3"/>
<circle cx="222.70" cy="371.36" r="2.75" fill="none" stroke="#000000" stroke-width="0.75"/><path d="M222.70 368.61A2.75 2.75 0 0 1 222.70 374.11Z" fill="#000000" stroke="#000000" stroke-width="0.3"/>
<circle cx="232.35" cy="368.86" r="2.75" fill="none" stroke="#000000" stroke-width="0.75"/><path d="M232.35 366.11A2.75 2.75 0 0 1 232.35 371.61Z" fill="#000000" stroke="#000000" stroke-width="0.3"/>
<circle cx="241.99" cy="366.49" r="2.75" fill="none" stroke="#000000" stroke-width="0.75"/><path d="M241.99 363.74A2.75 2.75 0 0 1 241.99 369.24Z" fill="#000000" stroke="#000000" stroke-width="0.3"/>
<circle cx="251.64" cy="364.38" r="2.75" fill="none" stroke="#000000" stroke-width="0.75"/><path d="M251.64 361.63A2.75 2.75 0 0 1 251.64 367.13Z" fill="#000000" stroke="#000000" stroke-width="0.3"/>
<circle cx="261.28" cy="362.31" r="2.75" fill="none" stroke="#000000" stroke-width="0.75"/><path d="M261.28 359.56A2.75 2.75 0 0 1 261.28 365.06Z" fill="#000000" stroke="#000000" stroke-width="0.3"/>
<circle cx="270.92" cy="360.30" r="2.75" fill="none" stroke="#000000" stroke-width="0.75"/><path d="M270.92 357.55A2.75 2.75 0 0 1 270.92 363.05Z" fill="#000000" stroke="#000000" stroke-width="0.3"/>
<circle cx="280.57" cy="358.36" r="2.75" fill="none" stroke="#000000" stroke-width="0.75"/><path d="M280.57 355.61A2.75 2.75 0 0 1 280.57 361.11Z" fill="#000000" stroke="#000000" stroke-width="0.3"/>
<circle cx="290.21" cy="356.48" r="2.75" fill="none" stroke="#000000" stroke-width="0.75"/><path d="M290.21 353.73A2.75 2.75 0 0 1 290.21 359.23Z" fill="#000000" stroke="#000000" stroke-width="0.3"/>
<circle cx="299.86" cy="354.68" r="2.75" fill="none" stroke="#000000" stroke-width="0.75"/><path d="M299.86 351.93A2.75 2.75 0 0 1 299.86 357.43Z" fill="#000000" stroke="#000000" stroke-width="0.3"/>
<circle cx="309.50" cy="353.16" r="2.75" fill="none" stroke="#000000" stroke-width="0.75"/><path d="M309.50 350.41A2.75 2.75 0 0 1 309.50 355.91Z" fill="#000000" stroke="#000000" stroke-width="0.3"/>
<circle cx="68.40" cy="351.58" r="2.75" fill="none" stroke="#0000ff" stroke-width="0.75"/><path d="M68.40 348.83A2.75 2.75 0 0 0 68.40 354.33Z" fill="#0000ff" stroke="#0000ff" stroke-width="0.3"/>
<circle cx="78.04" cy="349.76" r="2.75" fill="none" stroke="#0000ff" stroke-width="0.75"/><path d="M78.04 347.01A2.75 2.75 0 0 0 78.04 352.51Z" fill="#0000ff" stroke="#0000ff" stroke-width="0.3"/>
<circle cx="87.69" cy="347.97" r="2.75" fill="none" stroke="#0000ff" stroke-width="0.75"/><path d="M87.69 345.22A2.75 2.75 0 0 0 87.69 350.72Z" fill="#0000ff" stroke="#0000ff" stroke-width="0.3"/>
<circle cx="97.33" cy="346.06" r="2.75" fill="none" stroke="#0000ff" stroke-width="0.75"/><path d="M97.33 343.31A2.75 2.75 0 0 0 97.33 348.81Z" fill="#0000ff" stroke="#0000ff" stroke-width="0.3"/>
<circle cx="106.98" cy="344.32" r="2.75" fill="none" stroke="#0000ff" stroke-width="0.75"/><path d="M106.98 341.57A2.75 2.75 0 0 0 106.98 347.07Z" fill="#0000ff" stroke="#0000ff" stroke-width="0.3"/>
<circle cx="116.62" cy="342.61" r="2.75" fill="none" stroke="#0000ff" stroke-width="0.75"/><path d="M116.62 339.86A2.75 2.75 0 0 0 116.62 345.36Z" fill="#0000ff" stroke="#0000ff" stroke-width="0.3"/>
<circle cx="126.26" cy="340.91" r="2.75" fill="none" stroke="#0000ff" stroke-width="0.75"/><path d="M126.26 338.16A2.75 2.75 0 0 0 126.26 343.66Z" fill="#0000ff" stroke="#0000ff" stroke-width="0.3"/>
<circle cx="135.91" cy="339.22" r="2.75" fill="none" stroke="#0000ff" stroke-width="0.75"/><path d="M135.91 336.47A2.75 2.75 0 0 0 135.91 341.97Z" fill="#0000ff" stroke="#0000ff" stroke-width="0.3"/>
<circle cx="145.55" cy="337.56" r="2.75" fill="none" stroke="#0000ff" stroke-width="0.75"/><path d="M145.55 334.81A2.75 2.75 0 0 0 145.55 340.31Z" fill="#0000ff" stroke="#0000ff" stroke-width="0.3"/>
<circle cx="155.20" cy="335.90" r="2.75" fill="none" stroke="#0000ff" stroke-width="0.75"/><path d="M155.20 333.15A2.75 2.75 0 0 0 155.20 338.65Z" fill="#0000ff" stroke="#0000ff" stroke-width="0.3"/>
<circle cx="164.84" cy="334.40" r="2.75" fill="none" stroke="#0000ff" stroke-width="0.75"/><path d="M164.84 331.65A2.75 2.75 0 0 0 164.84 337.15Z" fill="#0000ff" stroke="#0000ff" stroke-width="0.3"/>
<circle cx="174.48" cy="332.92" r="2.75" fill="none" stroke="#0000ff" stroke-width="0.75"/><path d="M174.48 330.17A2.75 2.75 0 0 0 174.48 335.67Z" fill="#0000ff" stroke="#0000ff" stroke-width="0.3"/>
<circle cx="184.13" cy="331.44" r="2.75" fill="none" stroke="#0000ff" stroke-width="0.75"/><path d="M184.13 328.69A2.75 2.75 0 0 0 184.13 334.19Z" fill="#0000ff" stroke="#0000ff" stroke-width="0.3"/>
<circle cx="193.77" cy="330.13" r="2.75" fill="none" stroke="#0000ff" stroke-width="0.75"/><path d="M193.77 327.38A2.75 2.75 0 0 0 193.77 332.88Z" fill="#0000ff" stroke="#0000ff" stroke-width="0.3"/>
<circle cx="203.42" cy="328.51" r="2.75" fill="none" stroke="#0000ff" stroke-width="0.75"/><path d="M203.42 325.76A2.75 2.75 0 0 0 203.42 331.26Z" fill="#0000ff" stroke="#0000ff" stroke-width="0.3"/>
<circle cx="213.06" cy="327.11" r="2.75" fill="none" stroke="#0000ff" stroke-width="0.75"/><path d="M213.06 324.36A2.75 2.75 0 0 0 213.06 329.86Z" fill="#0000ff" stroke="#0000ff" stroke-width="0.3"/>
<circle cx="222.70" cy="325.63" r="2.75" fill="none" stroke="#0000ff" stroke-width="0.75"/><path d="M222.70 322.88A2.75 2.75 0 0 0 222.70 328.38Z" fill="#0000ff" stroke="#0000ff" stroke-width="0.3"/>
<circle cx="232.35" cy="324.27" r="2.75" fill="none" stroke="#0000ff" stroke-width="0.75"/><path d="M232.35 321.52A2.75 2.75 0 0 0 232.35 327.02Z" fill="#0000ff" stroke="#0000ff" stroke-width="0.3"/>
<circle cx="241.99" cy="322.92" r="2.75" fill="none" stroke="#0000ff" stroke-width="0.75"/><path d="M241.99 320.17A2.75 2.75 0 0 0 241.99 325.67Z" fill="#0000ff" stroke="#0000ff" stroke-width="0.3"/>
<circle cx="251.64" cy="321.51" r="2.75" fill="none" stroke="#0000ff" stroke-width="0.75"/><path d="M251.64 318.76A2.75 2.75 0 0 0 251.64 324.26Z" fill="#0000ff" stroke="#0000ff" stroke-width="0.3"/>
<circle cx="261.28" cy="320.41" r="2.75" fill="none" stroke="#0000ff" stroke-width="0.75"/><path d="M261.28 317.66A2.75 2.75 0 0 0 261.28 323.16Z" fill="#0000ff" stroke="#0000ff" stroke-width="0.3"/>
<circle cx="270.92" cy="319.35" r="2.75" fill="none" stroke="#0000ff" stroke-width="0.75"/><path d="M270.92 316.60A2.75 2.75 0 0 0 270.92 322.10Z" fill="#0000ff" stroke="#0000ff" stroke-width="0.3"/>
<circle cx="280.57" cy="318.32" r="2.75" fill="none" stroke="#0000ff" stroke-width="0.75"/><path d="M280.57 315.57A2.75 2.75 0 0 0 280.57 321.07Z" fill="#0000ff" stroke="#0000ff" stroke-width="0.3"/>
<circle cx="290.21" cy="317.34" r="2.75" fill="none" stroke="#0000ff" stroke-width="0.75"/><path d="M290.21 314.59A2.75 2.75 0 0 0 290.21 320.09Z" fill="#0000ff" stroke="#0000ff" stroke-width="0.3"/>
<circle cx="299.86" cy="316.40" r="2.75" fill="none" stroke="#0000ff" stroke-width="0.75"/><path d="M299.86 313.65A2.75 2.75 0 0 0 299.86 319.15Z" fill="#0000ff" stroke="#0000ff" stroke-width="0.3"/>
<circle cx="309.50" cy="315.51" r="2.75" fill="none" stroke="#0000ff" stroke-width="0.75"/><path d="M309.50 312.76A2.75 2.75 0 0 0 309.50 318.26Z" fill="#0000ff" stroke="#0000ff" stroke-width="0.3"/>
<rect x="68.3" y="272.5" width="241.10" height="152.00" fill="none" stroke="#2e2e2e" stroke-width="1"/>
<text x="60.0" y="276.80" text-anchor="end" class="t">0.1</text>
<text x="60.0" y="320.23" text-anchor="end" class="t">0</text>
<text x="60.0" y="363.66" text-anchor="end" class="t">-0.1</text>
<text x="60.0" y="407.09" text-anchor="end" class="t">-0.2</text>
<path d="M68.30 424.5v-2.9M68.30 272.5v2.9M92.41 424.5v-1.5M92.41 272.5v1.5M116.52 424.5v-2.9M116.52 272.5v2.9M140.63 424.5v-1.5M140.63 272.5v1.5M164.74 424.5v-2.9M164.74 272.5v2.9M188.85 424.5v-1.5M188.85 272.5v1.5M212.96 424.5v-2.9M212.96 272.5v2.9M237.07 424.5v-1.5M237.07 272.5v1.5M261.18 424.5v-2.9M261.18 272.5v2.9M285.29 424.5v-1.5M285.29 272.5v1.5M309.40 424.5v-2.9M309.40 272.5v2.9M68.3 272.50h2.9M309.4 272.50h-2.9M68.3 281.19h1.5M309.4 281.19h-1.5M68.3 289.87h1.5M309.4 289.87h-1.5M68.3 298.56h1.5M309.4 298.56h-1.5M68.3 307.24h1.5M309.4 307.24h-1.5M68.3 315.93h2.9M309.4 315.93h-2.9M68.3 324.61h1.5M309.4 324.61h-1.5M68.3 333.30h1.5M309.4 333.30h-1.5M68.3 341.99h1.5M309.4 341.99h-1.5M68.3 350.67h1.5M309.4 350.67h-1.5M68.3 359.36h2.9M309.4 359.36h-2.9M68.3 368.04h1.5M309.4 368.04h-1.5M68.3 376.73h1.5M309.4 376.73h-1.5M68.3 385.41h1.5M309.4 385.41h-1.5M68.3 394.10h1.5M309.4 394.10h-1.5M68.3 402.79h2.9M309.4 402.79h-2.9M68.3 411.47h1.5M309.4 411.47h-1.5M68.3 420.16h1.5M309.4 420.16h-1.5" stroke="#222" stroke-width="0.8" fill="none"/>
<text x="69.80" y="442.7" text-anchor="middle" class="t">0</text>
<text x="118.02" y="442.7" text-anchor="middle" class="t">0.2</text>
<text x="166.24" y="442.7" text-anchor="middle" class="t">0.4</text>
<text x="214.46" y="442.7" text-anchor="middle" class="t">0.6</text>
<text x="262.68" y="442.7" text-anchor="middle" class="t">0.8</text>
<text x="310.90" y="442.7" text-anchor="middle" class="t">1</text>
<text x="188.7" y="463.1" text-anchor="middle" class="t" style="font-size:15px">λ</text>
<g transform="translate(18.2 363.8) rotate(-90)"><path d="M3.4 -10.2L0.4 -4.25L3.4 1.7" fill="none" stroke="#111" stroke-width="0.9"/><text x="6.9" y="0" class="t" style="font-size:14.5px">δ</text><text x="16.6" y="0" class="t" font-style="italic">g</text><path d="M27.4 -10.2L30.4 -4.25L27.4 1.7" fill="none" stroke="#111" stroke-width="0.9"/></g>
<text x="175.24" y="286.70" class="t" style="white-space:pre">ud </text><path d="M192.62 283.45H204.42M201.12 280.85Q202.12 282.75 204.42 283.45Q202.12 284.15 201.12 286.05" fill="none" stroke="#111" stroke-width="0.85"/><text x="205.12" y="286.70" class="t" style="white-space:pre"> asym</text>
<circle cx="246.20" cy="282.20" r="3.20" fill="#ff0000"/>
<text x="127.92" y="300.00" class="t" style="white-space:pre">ud </text><path d="M145.29 296.75H157.09M153.79 294.15Q154.79 296.05 157.09 296.75Q154.79 297.45 153.79 299.35" fill="none" stroke="#111" stroke-width="0.85"/><text x="157.79" y="300.00" class="t" style="white-space:pre"> ud in one lead</text>
<circle cx="246.20" cy="295.50" r="2.75" fill="none" stroke="#000000" stroke-width="0.75"/><path d="M246.20 292.75A2.75 2.75 0 0 1 246.20 298.25Z" fill="#000000" stroke="#000000" stroke-width="0.3"/>
<text x="113.01" y="313.30" class="t" style="white-space:pre">ud in one lead </text><path d="M192.62 310.05H204.42M201.12 307.45Q202.12 309.35 204.42 310.05Q202.12 310.75 201.12 312.65" fill="none" stroke="#111" stroke-width="0.85"/><text x="205.12" y="313.30" class="t" style="white-space:pre"> asym</text>
<circle cx="246.20" cy="308.80" r="2.75" fill="none" stroke="#0000ff" stroke-width="0.75"/><path d="M246.20 306.05A2.75 2.75 0 0 0 246.20 311.55Z" fill="#0000ff" stroke="#0000ff" stroke-width="0.3"/>
<text x="521.5" y="256.9" text-anchor="middle" class="t">UCF for breaking of up-down symmetry, finite B</text>
<polyline points="400.40,371.72 402.81,371.86 405.22,372.00 407.63,372.13 410.04,372.26 412.46,372.39 414.87,372.52 417.28,372.64 419.69,372.76 422.10,372.88 424.51,373.00 426.92,373.11 429.33,373.22 431.74,373.33 434.15,373.44 436.57,373.54 438.98,373.64 441.39,373.74 443.80,373.84 446.21,373.94 448.62,374.03 451.03,374.12 453.44,374.21 455.85,374.30 458.26,374.39 460.68,374.47 463.09,374.55 465.50,374.63 467.91,374.71 470.32,374.79 472.73,374.86 475.14,374.94 477.55,375.01 479.96,375.08 482.37,375.15 484.79,375.21 487.20,375.28 489.61,375.34 492.02,375.40 494.43,375.46 496.84,375.52 499.25,375.58 501.66,375.63 504.07,375.69 506.48,375.74 508.90,375.79 511.31,375.84 513.72,375.89 516.13,375.94 518.54,375.99 520.95,376.03 523.36,376.07 525.77,376.12 528.18,376.16 530.59,376.20 533.00,376.24 535.42,376.27 537.83,376.31 540.24,376.35 542.65,376.38 545.06,376.41 547.47,376.45 549.88,376.48 552.29,376.51 554.70,376.54 557.12,376.56 559.53,376.59 561.94,376.62 564.35,376.64 566.76,376.66 569.17,376.69 571.58,376.71 573.99,376.73 576.40,376.75 578.81,376.77 581.23,376.79 583.64,376.81 586.05,376.82 588.46,376.84 590.87,376.85 593.28,376.87 595.69,376.88 598.10,376.89 600.51,376.91 602.92,376.92 605.34,376.93 607.75,376.94 610.16,376.95 612.57,376.95 614.98,376.96 617.39,376.97 619.80,376.97 622.21,376.98 624.62,376.98 627.03,376.99 629.45,376.99 631.86,377.00 634.27,377.00 636.68,377.00 639.09,377.00 641.50,377.00" fill="none" stroke="#0000ff" stroke-width="1"/>
<polyline points="400.40,330.49 402.81,331.41 405.22,332.31 407.63,333.20 410.04,334.06 412.46,334.91 414.87,335.75 417.28,336.56 419.69,337.36 422.10,338.15 424.51,338.92 426.92,339.67 429.33,340.41 431.74,341.14 434.15,341.85 436.57,342.54 438.98,343.23 441.39,343.90 443.80,344.56 446.21,345.20 448.62,345.83 451.03,346.46 453.44,347.06 455.85,347.66 458.26,348.25 460.68,348.82 463.09,349.38 465.50,349.94 467.91,350.48 470.32,351.01 472.73,351.53 475.14,352.05 477.55,352.55 479.96,353.04 482.37,353.53 484.79,354.00 487.20,354.47 489.61,354.92 492.02,355.37 494.43,355.81 496.84,356.24 499.25,356.67 501.66,357.08 504.07,357.49 506.48,357.89 508.90,358.29 511.31,358.67 513.72,359.05 516.13,359.42 518.54,359.79 520.95,360.15 523.36,360.50 525.77,360.84 528.18,361.18 530.59,361.52 533.00,361.84 535.42,362.16 537.83,362.48 540.24,362.79 542.65,363.09 545.06,363.39 547.47,363.68 549.88,363.96 552.29,364.25 554.70,364.52 557.12,364.79 559.53,365.06 561.94,365.32 564.35,365.58 566.76,365.83 569.17,366.08 571.58,366.32 573.99,366.56 576.40,366.79 578.81,367.02 581.23,367.25 583.64,367.47 586.05,367.69 588.46,367.90 590.87,368.11 593.28,368.32 595.69,368.52 598.10,368.72 600.51,368.91 602.92,369.10 605.34,369.29 607.75,369.47 610.16,369.65 612.57,369.83 614.98,370.00 617.39,370.18 619.80,370.34 622.21,370.51 624.62,370.67 627.03,370.83 629.45,370.98 631.86,371.14 634.27,371.29 636.68,371.44 639.09,371.58 641.50,371.72" fill="none" stroke="#000000" stroke-width="1"/>
<polyline points="400.40,330.49 402.81,332.33 405.22,334.10 407.63,335.80 410.04,337.44 412.46,339.01 414.87,340.52 417.28,341.97 419.69,343.37 422.10,344.71 424.51,346.00 426.92,347.25 429.33,348.44 431.74,349.59 434.15,350.70 436.57,351.76 438.98,352.79 441.39,353.78 443.80,354.73 446.21,355.64 448.62,356.52 451.03,357.37 453.44,358.18 455.85,358.97 458.26,359.73 460.68,360.46 463.09,361.16 465.50,361.83 467.91,362.48 470.32,363.11 472.73,363.71 475.14,364.29 477.55,364.85 479.96,365.39 482.37,365.91 484.79,366.41 487.20,366.89 489.61,367.35 492.02,367.79 494.43,368.22 496.84,368.63 499.25,369.03 501.66,369.41 504.07,369.77 506.48,370.13 508.90,370.46 511.31,370.79 513.72,371.10 516.13,371.40 518.54,371.69 520.95,371.97 523.36,372.24 525.77,372.49 528.18,372.74 530.59,372.97 533.00,373.20 535.42,373.41 537.83,373.62 540.24,373.82 542.65,374.01 545.06,374.19 547.47,374.36 549.88,374.53 552.29,374.69 554.70,374.84 557.12,374.98 559.53,375.12 561.94,375.25 564.35,375.38 566.76,375.50 569.17,375.61 571.58,375.72 573.99,375.82 576.40,375.92 578.81,376.01 581.23,376.09 583.64,376.17 586.05,376.25 588.46,376.32 590.87,376.39 593.28,376.45 595.69,376.51 598.10,376.57 600.51,376.62 602.92,376.67 605.34,376.71 607.75,376.75 610.16,376.79 612.57,376.82 614.98,376.85 617.39,376.88 619.80,376.90 622.21,376.92 624.62,376.94 627.03,376.96 629.45,376.97 631.86,376.98 634.27,376.99 636.68,377.00 639.09,377.00 641.50,377.00" fill="none" stroke="#ff0000" stroke-width="1"/>
<circle cx="400.50" cy="328.20" r="3.20" fill="#ff0000"/>
<circle cx="410.14" cy="335.50" r="3.20" fill="#ff0000"/>
<circle cx="419.79" cy="341.47" r="3.20" fill="#ff0000"/>
<circle cx="429.43" cy="347.17" r="3.20" fill="#ff0000"/>
<circle cx="439.08" cy="352.05" r="3.20" fill="#ff0000"/>
<circle cx="448.72" cy="356.16" r="3.20" fill="#ff0000"/>
<circle cx="458.36" cy="359.37" r="3.20" fill="#ff0000"/>
<circle cx="468.01" cy="362.30" r="3.20" fill="#ff0000"/>
<circle cx="477.65" cy="364.52" r="3.20" fill="#ff0000"/>
<circle cx="487.30" cy="366.44" r="3.20" fill="#ff0000"/>
<circle cx="496.94" cy="367.20" r="3.20" fill="#ff0000"/>
<circle cx="506.58" cy="369.20" r="3.20" fill="#ff0000"/>
<circle cx="516.23" cy="370.10" r="3.20" fill="#ff0000"/>
<circle cx="525.87" cy="371.40" r="3.20" fill="#ff0000"/>
<circle cx="535.52" cy="372.40" r="3.20" fill="#ff0000"/>
<circle cx="545.16" cy="373.30" r="3.20" fill="#ff0000"/>
<circle cx="554.80" cy="374.20" r="3.20" fill="#ff0000"/>
<circle cx="564.45" cy="374.30" r="3.20" fill="#ff0000"/>
<circle cx="574.09" cy="375.10" r="3.20" fill="#ff0000"/>
<circle cx="583.74" cy="375.60" r="3.20" fill="#ff0000"/>
<circle cx="593.38" cy="376.40" r="3.20" fill="#ff0000"/>
<circle cx="603.02" cy="376.60" r="3.20" fill="#ff0000"/>
<circle cx="612.67" cy="377.29" r="3.20" fill="#ff0000"/>
<circle cx="622.31" cy="377.61" r="3.20" fill="#ff0000"/>
<circle cx="631.96" cy="377.86" r="3.20" fill="#ff0000"/>
<circle cx="641.60" cy="377.94" r="3.20" fill="#ff0000"/>
<circle cx="400.50" cy="328.42" r="2.75" fill="none" stroke="#000000" stroke-width="0.75"/><path d="M400.50 325.67A2.75 2.75 0 0 1 400.50 331.17Z" fill="#000000" stroke="#000000" stroke-width="0.3"/>
<circle cx="410.14" cy="332.20" r="2.75" fill="none" stroke="#000000" stroke-width="0.75"/><path d="M410.14 329.45A2.75 2.75 0 0 1 410.14 334.95Z" fill="#000000" stroke="#000000" stroke-width="0.3"/>
<circle cx="419.79" cy="335.99" r="2.75" fill="none" stroke="#000000" stroke-width="0.75"/><path d="M419.79 333.24A2.75 2.75 0 0 1 419.79 338.74Z" fill="#000000" stroke="#000000" stroke-width="0.3"/>
<circle cx="429.43" cy="339.60" r="2.75" fill="none" stroke="#000000" stroke-width="0.75"/><path d="M429.43 336.85A2.75 2.75 0 0 1 429.43 342.35Z" fill="#000000" stroke="#000000" stroke-width="0.3"/>
<circle cx="439.08" cy="342.46" r="2.75" fill="none" stroke="#000000" stroke-width="0.75"/><path d="M439.08 339.71A2.75 2.75 0 0 1 439.08 345.21Z" fill="#000000" stroke="#000000" stroke-width="0.3"/>
<circle cx="448.72" cy="345.08" r="2.75" fill="none" stroke="#000000" stroke-width="0.75"/><path d="M448.72 342.33A2.75 2.75 0 0 1 448.72 347.83Z" fill="#000000" stroke="#000000" stroke-width="0.3"/>
<circle cx="458.36" cy="347.28" r="2.75" fill="none" stroke="#000000" stroke-width="0.75"/><path d="M458.36 344.53A2.75 2.75 0 0 1 458.36 350.03Z" fill="#000000" stroke="#000000" stroke-width="0.3"/>
<circle cx="468.01" cy="349.66" r="2.75" fill="none" stroke="#000000" stroke-width="0.75"/><path d="M468.01 346.91A2.75 2.75 0 0 1 468.01 352.41Z" fill="#000000" stroke="#000000" stroke-width="0.3"/>
<circle cx="477.65" cy="351.63" r="2.75" fill="none" stroke="#000000" stroke-width="0.75"/><path d="M477.65 348.88A2.75 2.75 0 0 1 477.65 354.38Z" fill="#000000" stroke="#000000" stroke-width="0.3"/>
<circle cx="487.30" cy="353.22" r="2.75" fill="none" stroke="#000000" stroke-width="0.75"/><path d="M487.30 350.47A2.75 2.75 0 0 1 487.30 355.97Z" fill="#000000" stroke="#000000" stroke-width="0.3"/>
<circle cx="496.94" cy="355.30" r="2.75" fill="none" stroke="#000000" stroke-width="0.75"/><path d="M496.94 352.55A2.75 2.75 0 0 1 496.94 358.05Z" fill="#000000" stroke="#000000" stroke-width="0.3"/>
<circle cx="506.58" cy="357.00" r="2.75" fill="none" stroke="#000000" stroke-width="0.75"/><path d="M506.58 354.25A2.75 2.75 0 0 1 506.58 359.75Z" fill="#000000" stroke="#000000" stroke-width="0.3"/>
<circle cx="516.23" cy="358.80" r="2.75" fill="none" stroke="#000000" stroke-width="0.75"/><path d="M516.23 356.05A2.75 2.75 0 0 1 516.23 361.55Z" fill="#000000" stroke="#000000" stroke-width="0.3"/>
<circle cx="525.87" cy="360.20" r="2.75" fill="none" stroke="#000000" stroke-width="0.75"/><path d="M525.87 357.45A2.75 2.75 0 0 1 525.87 362.95Z" fill="#000000" stroke="#000000" stroke-width="0.3"/>
<circle cx="535.52" cy="360.90" r="2.75" fill="none" stroke="#000000" stroke-width="0.75"/><path d="M535.52 358.15A2.75 2.75 0 0 1 535.52 363.65Z" fill="#000000" stroke="#000000" stroke-width="0.3"/>
<circle cx="545.16" cy="362.10" r="2.75" fill="none" stroke="#000000" stroke-width="0.75"/><path d="M545.16 359.35A2.75 2.75 0 0 1 545.16 364.85Z" fill="#000000" stroke="#000000" stroke-width="0.3"/>
<circle cx="554.80" cy="363.30" r="2.75" fill="none" stroke="#000000" stroke-width="0.75"/><path d="M554.80 360.55A2.75 2.75 0 0 1 554.80 366.05Z" fill="#000000" stroke="#000000" stroke-width="0.3"/>
<circle cx="564.45" cy="364.30" r="2.75" fill="none" stroke="#000000" stroke-width="0.75"/><path d="M564.45 361.55A2.75 2.75 0 0 1 564.45 367.05Z" fill="#000000" stroke="#000000" stroke-width="0.3"/>
<circle cx="574.09" cy="364.80" r="2.75" fill="none" stroke="#000000" stroke-width="0.75"/><path d="M574.09 362.05A2.75 2.75 0 0 1 574.09 367.55Z" fill="#000000" stroke="#000000" stroke-width="0.3"/>
<circle cx="583.74" cy="365.70" r="2.75" fill="none" stroke="#000000" stroke-width="0.75"/><path d="M583.74 362.95A2.75 2.75 0 0 1 583.74 368.45Z" fill="#000000" stroke="#000000" stroke-width="0.3"/>
<circle cx="593.38" cy="367.90" r="2.75" fill="none" stroke="#000000" stroke-width="0.75"/><path d="M593.38 365.15A2.75 2.75 0 0 1 593.38 370.65Z" fill="#000000" stroke="#000000" stroke-width="0.3"/>
<circle cx="603.02" cy="368.70" r="2.75" fill="none" stroke="#000000" stroke-width="0.75"/><path d="M603.02 365.95A2.75 2.75 0 0 1 603.02 371.45Z" fill="#000000" stroke="#000000" stroke-width="0.3"/>
<circle cx="612.67" cy="368.18" r="2.75" fill="none" stroke="#000000" stroke-width="0.75"/><path d="M612.67 365.43A2.75 2.75 0 0 1 612.67 370.93Z" fill="#000000" stroke="#000000" stroke-width="0.3"/>
<circle cx="622.31" cy="368.76" r="2.75" fill="none" stroke="#000000" stroke-width="0.75"/><path d="M622.31 366.01A2.75 2.75 0 0 1 622.31 371.51Z" fill="#000000" stroke="#000000" stroke-width="0.3"/>
<circle cx="631.96" cy="369.33" r="2.75" fill="none" stroke="#000000" stroke-width="0.75"/><path d="M631.96 366.58A2.75 2.75 0 0 1 631.96 372.08Z" fill="#000000" stroke="#000000" stroke-width="0.3"/>
<circle cx="641.60" cy="370.07" r="2.75" fill="none" stroke="#000000" stroke-width="0.75"/><path d="M641.60 367.32A2.75 2.75 0 0 1 641.60 372.82Z" fill="#000000" stroke="#000000" stroke-width="0.3"/>
<circle cx="400.50" cy="371.21" r="2.75" fill="none" stroke="#0000ff" stroke-width="0.75"/><path d="M400.50 368.46A2.75 2.75 0 0 0 400.50 373.96Z" fill="#0000ff" stroke="#0000ff" stroke-width="0.3"/>
<circle cx="410.14" cy="371.56" r="2.75" fill="none" stroke="#0000ff" stroke-width="0.75"/><path d="M410.14 368.81A2.75 2.75 0 0 0 410.14 374.31Z" fill="#0000ff" stroke="#0000ff" stroke-width="0.3"/>
<circle cx="419.79" cy="371.92" r="2.75" fill="none" stroke="#0000ff" stroke-width="0.75"/><path d="M419.79 369.17A2.75 2.75 0 0 0 419.79 374.67Z" fill="#0000ff" stroke="#0000ff" stroke-width="0.3"/>
<circle cx="429.43" cy="372.29" r="2.75" fill="none" stroke="#0000ff" stroke-width="0.75"/><path d="M429.43 369.54A2.75 2.75 0 0 0 429.43 375.04Z" fill="#0000ff" stroke="#0000ff" stroke-width="0.3"/>
<circle cx="439.08" cy="372.68" r="2.75" fill="none" stroke="#0000ff" stroke-width="0.75"/><path d="M439.08 369.93A2.75 2.75 0 0 0 439.08 375.43Z" fill="#0000ff" stroke="#0000ff" stroke-width="0.3"/>
<circle cx="448.72" cy="373.07" r="2.75" fill="none" stroke="#0000ff" stroke-width="0.75"/><path d="M448.72 370.32A2.75 2.75 0 0 0 448.72 375.82Z" fill="#0000ff" stroke="#0000ff" stroke-width="0.3"/>
<circle cx="458.36" cy="373.16" r="2.75" fill="none" stroke="#0000ff" stroke-width="0.75"/><path d="M458.36 370.41A2.75 2.75 0 0 0 458.36 375.91Z" fill="#0000ff" stroke="#0000ff" stroke-width="0.3"/>
<circle cx="468.01" cy="373.66" r="2.75" fill="none" stroke="#0000ff" stroke-width="0.75"/><path d="M468.01 370.91A2.75 2.75 0 0 0 468.01 376.41Z" fill="#0000ff" stroke="#0000ff" stroke-width="0.3"/>
<circle cx="477.65" cy="374.24" r="2.75" fill="none" stroke="#0000ff" stroke-width="0.75"/><path d="M477.65 371.49A2.75 2.75 0 0 0 477.65 376.99Z" fill="#0000ff" stroke="#0000ff" stroke-width="0.3"/>
<circle cx="487.30" cy="374.63" r="2.75" fill="none" stroke="#0000ff" stroke-width="0.75"/><path d="M487.30 371.88A2.75 2.75 0 0 0 487.30 377.38Z" fill="#0000ff" stroke="#0000ff" stroke-width="0.3"/>
<circle cx="496.94" cy="375.01" r="2.75" fill="none" stroke="#0000ff" stroke-width="0.75"/><path d="M496.94 372.26A2.75 2.75 0 0 0 496.94 377.76Z" fill="#0000ff" stroke="#0000ff" stroke-width="0.3"/>
<circle cx="506.58" cy="375.38" r="2.75" fill="none" stroke="#0000ff" stroke-width="0.75"/><path d="M506.58 372.63A2.75 2.75 0 0 0 506.58 378.13Z" fill="#0000ff" stroke="#0000ff" stroke-width="0.3"/>
<circle cx="516.23" cy="375.55" r="2.75" fill="none" stroke="#0000ff" stroke-width="0.75"/><path d="M516.23 372.80A2.75 2.75 0 0 0 516.23 378.30Z" fill="#0000ff" stroke="#0000ff" stroke-width="0.3"/>
<circle cx="525.87" cy="375.90" r="2.75" fill="none" stroke="#0000ff" stroke-width="0.75"/><path d="M525.87 373.15A2.75 2.75 0 0 0 525.87 378.65Z" fill="#0000ff" stroke="#0000ff" stroke-width="0.3"/>
<circle cx="535.52" cy="376.24" r="2.75" fill="none" stroke="#0000ff" stroke-width="0.75"/><path d="M535.52 373.49A2.75 2.75 0 0 0 535.52 378.99Z" fill="#0000ff" stroke="#0000ff" stroke-width="0.3"/>
<circle cx="545.16" cy="376.47" r="2.75" fill="none" stroke="#0000ff" stroke-width="0.75"/><path d="M545.16 373.72A2.75 2.75 0 0 0 545.16 379.22Z" fill="#0000ff" stroke="#0000ff" stroke-width="0.3"/>
<circle cx="554.80" cy="376.69" r="2.75" fill="none" stroke="#0000ff" stroke-width="0.75"/><path d="M554.80 373.94A2.75 2.75 0 0 0 554.80 379.44Z" fill="#0000ff" stroke="#0000ff" stroke-width="0.3"/>
<circle cx="564.45" cy="376.90" r="2.75" fill="none" stroke="#0000ff" stroke-width="0.75"/><path d="M564.45 374.15A2.75 2.75 0 0 0 564.45 379.65Z" fill="#0000ff" stroke="#0000ff" stroke-width="0.3"/>
<circle cx="574.09" cy="377.09" r="2.75" fill="none" stroke="#0000ff" stroke-width="0.75"/><path d="M574.09 374.34A2.75 2.75 0 0 0 574.09 379.84Z" fill="#0000ff" stroke="#0000ff" stroke-width="0.3"/>
<circle cx="583.74" cy="377.57" r="2.75" fill="none" stroke="#0000ff" stroke-width="0.75"/><path d="M583.74 374.82A2.75 2.75 0 0 0 583.74 380.32Z" fill="#0000ff" stroke="#0000ff" stroke-width="0.3"/>
<circle cx="593.38" cy="377.45" r="2.75" fill="none" stroke="#0000ff" stroke-width="0.75"/><path d="M593.38 374.70A2.75 2.75 0 0 0 593.38 380.20Z" fill="#0000ff" stroke="#0000ff" stroke-width="0.3"/>
<circle cx="603.02" cy="377.52" r="2.75" fill="none" stroke="#0000ff" stroke-width="0.75"/><path d="M603.02 374.77A2.75 2.75 0 0 0 603.02 380.27Z" fill="#0000ff" stroke="#0000ff" stroke-width="0.3"/>
<circle cx="612.67" cy="377.57" r="2.75" fill="none" stroke="#0000ff" stroke-width="0.75"/><path d="M612.67 374.82A2.75 2.75 0 0 0 612.67 380.32Z" fill="#0000ff" stroke="#0000ff" stroke-width="0.3"/>
<circle cx="622.31" cy="377.82" r="2.75" fill="none" stroke="#0000ff" stroke-width="0.75"/><path d="M622.31 375.07A2.75 2.75 0 0 0 622.31 380.57Z" fill="#0000ff" stroke="#0000ff" stroke-width="0.3"/>
<circle cx="631.96" cy="378.06" r="2.75" fill="none" stroke="#0000ff" stroke-width="0.75"/><path d="M631.96 375.31A2.75 2.75 0 0 0 631.96 380.81Z" fill="#0000ff" stroke="#0000ff" stroke-width="0.3"/>
<circle cx="641.60" cy="377.90" r="2.75" fill="none" stroke="#0000ff" stroke-width="0.75"/><path d="M641.60 375.15A2.75 2.75 0 0 0 641.60 380.65Z" fill="#0000ff" stroke="#0000ff" stroke-width="0.3"/>
<rect x="400.40000000000003" y="272.5" width="241.10" height="152.00" fill="none" stroke="#2e2e2e" stroke-width="1"/>
<text x="392.1" y="276.80" text-anchor="end" class="t">0.2</text>
<text x="392.1" y="352.80" text-anchor="end" class="t">0.1</text>
<text x="392.1" y="428.80" text-anchor="end" class="t">0</text>
<path d="M400.40 424.5v-2.9M400.40 272.5v2.9M424.51 424.5v-1.5M424.51 272.5v1.5M448.62 424.5v-2.9M448.62 272.5v2.9M472.73 424.5v-1.5M472.73 272.5v1.5M496.84 424.5v-2.9M496.84 272.5v2.9M520.95 424.5v-1.5M520.95 272.5v1.5M545.06 424.5v-2.9M545.06 272.5v2.9M569.17 424.5v-1.5M569.17 272.5v1.5M593.28 424.5v-2.9M593.28 272.5v2.9M617.39 424.5v-1.5M617.39 272.5v1.5M641.50 424.5v-2.9M641.50 272.5v2.9M400.40000000000003 272.50h2.9M641.5 272.50h-2.9M400.40000000000003 287.70h1.5M641.5 287.70h-1.5M400.40000000000003 302.90h1.5M641.5 302.90h-1.5M400.40000000000003 318.10h1.5M641.5 318.10h-1.5M400.40000000000003 333.30h1.5M641.5 333.30h-1.5M400.40000000000003 348.50h2.9M641.5 348.50h-2.9M400.40000000000003 363.70h1.5M641.5 363.70h-1.5M400.40000000000003 378.90h1.5M641.5 378.90h-1.5M400.40000000000003 394.10h1.5M641.5 394.10h-1.5M400.40000000000003 409.30h1.5M641.5 409.30h-1.5M400.40000000000003 424.50h2.9M641.5 424.50h-2.9" stroke="#222" stroke-width="0.8" fill="none"/>
<text x="401.90" y="442.7" text-anchor="middle" class="t">0</text>
<text x="450.12" y="442.7" text-anchor="middle" class="t">0.2</text>
<text x="498.34" y="442.7" text-anchor="middle" class="t">0.4</text>
<text x="546.56" y="442.7" text-anchor="middle" class="t">0.6</text>
<text x="594.78" y="442.7" text-anchor="middle" class="t">0.8</text>
<text x="643.00" y="442.7" text-anchor="middle" class="t">1</text>
<text x="520.8" y="463.1" text-anchor="middle" class="t" style="font-size:15px">λ</text>
<text transform="translate(350.3 366.3) rotate(-90)" class="t">var [<tspan font-style="italic">g</tspan>]</text>
<text x="507.34" y="286.70" class="t" style="white-space:pre">ud </text><path d="M524.72 283.45H536.52M533.22 280.85Q534.22 282.75 536.52 283.45Q534.22 284.15 533.22 286.05" fill="none" stroke="#111" stroke-width="0.85"/><text x="537.22" y="286.70" class="t" style="white-space:pre"> asym</text>
<circle cx="578.30" cy="282.20" r="3.20" fill="#ff0000"/>
<text x="460.02" y="300.00" class="t" style="white-space:pre">ud </text><path d="M477.39 296.75H489.19M485.89 294.15Q486.89 296.05 489.19 296.75Q486.89 297.45 485.89 299.35" fill="none" stroke="#111" stroke-width="0.85"/><text x="489.89" y="300.00" class="t" style="white-space:pre"> ud in one lead</text>
<circle cx="578.30" cy="295.50" r="2.75" fill="none" stroke="#000000" stroke-width="0.75"/><path d="M578.30 292.75A2.75 2.75 0 0 1 578.30 298.25Z" fill="#000000" stroke="#000000" stroke-width="0.3"/>
<text x="445.11" y="313.30" class="t" style="white-space:pre">ud in one lead </text><path d="M524.72 310.05H536.52M533.22 307.45Q534.22 309.35 536.52 310.05Q534.22 310.75 533.22 312.65" fill="none" stroke="#111" stroke-width="0.85"/><text x="537.22" y="313.30" class="t" style="white-space:pre"> asym</text>
<circle cx="578.30" cy="308.80" r="2.75" fill="none" stroke="#0000ff" stroke-width="0.75"/><path d="M578.30 306.05A2.75 2.75 0 0 0 578.30 311.55Z" fill="#0000ff" stroke="#0000ff" stroke-width="0.3"/>
</svg>
</body></html>
